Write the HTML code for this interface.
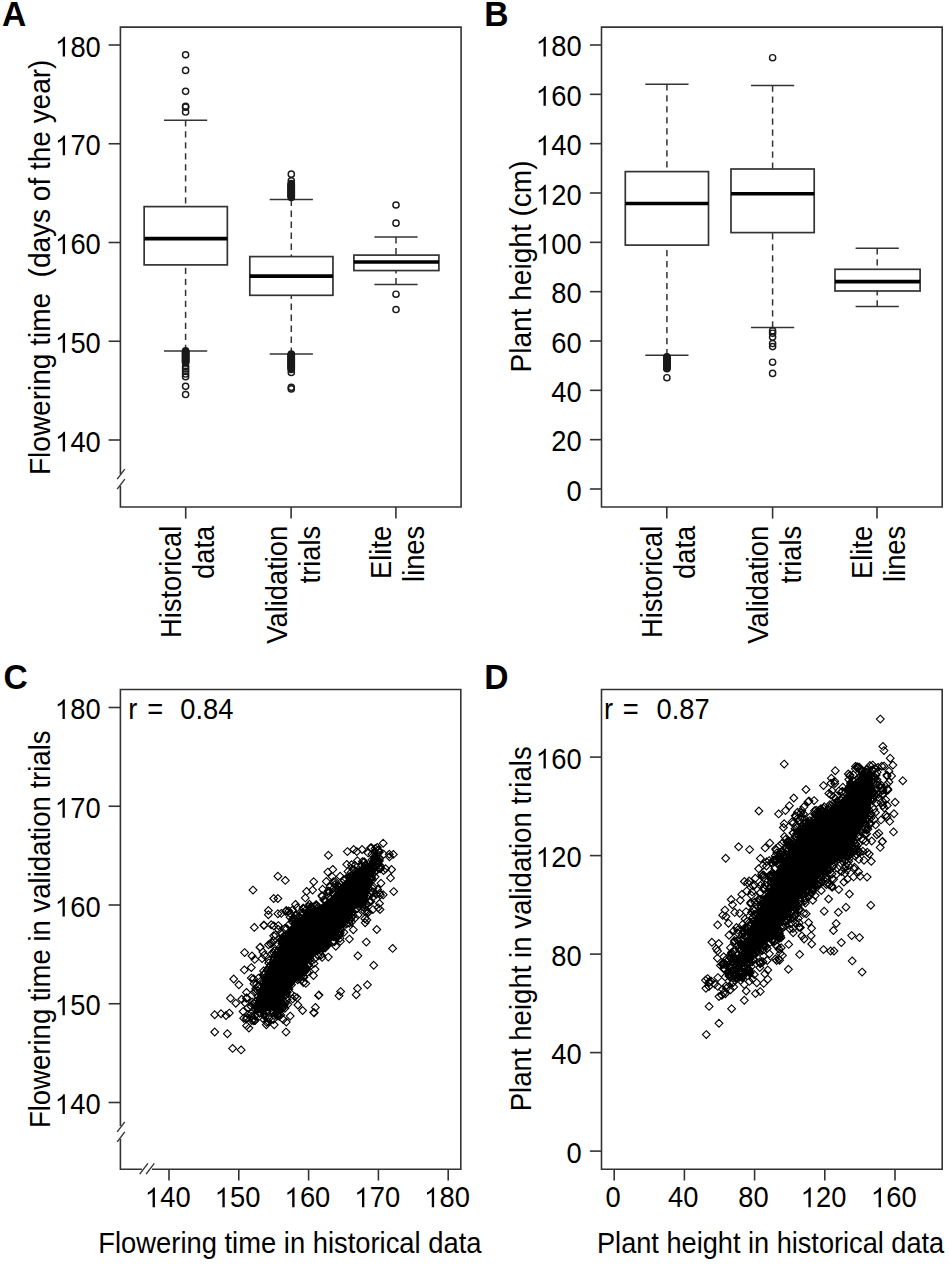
<!DOCTYPE html>
<html><head><meta charset="utf-8"><title>Figure</title>
<style>html,body{margin:0;padding:0;background:#fff;overflow:hidden;width:950px;height:1280px;}svg{display:block;}text{font-family:"Liberation Sans",sans-serif;}</style>
</head><body>
<svg width="950" height="1280" viewBox="0 0 950 1280" font-family="Liberation Sans, sans-serif" fill="#000">
<rect width="950" height="1280" fill="#fff"/>
<path d="M120.40 474.30V27.10H461.10V507.00H120.40V486.00" fill="none" stroke="#333" stroke-width="1.6" stroke-linejoin="miter"/>
<line x1="117.20" y1="479.20" x2="124.80" y2="469.20" stroke="#333" stroke-width="1.4" />
<line x1="117.20" y1="489.20" x2="124.80" y2="479.20" stroke="#333" stroke-width="1.4" />
<line x1="108.60" y1="45.00" x2="120.40" y2="45.00" stroke="#333" stroke-width="1.6" />
<text transform="translate(55.25 56.50) scale(1 1.06)" font-size="27.3">&#8199;80</text>
<path transform="translate(55.25 56.50) scale(0.013330 -0.013330)" d="M560 0L735 0L735 1480L622 1480L585 1404L520 1323L420 1238L300 1162L200 1111L200 935L310 985L420 1051L500 1111L560 1162Z"/>
<line x1="108.60" y1="143.75" x2="120.40" y2="143.75" stroke="#333" stroke-width="1.6" />
<text transform="translate(55.25 155.25) scale(1 1.06)" font-size="27.3">&#8199;70</text>
<path transform="translate(55.25 155.25) scale(0.013330 -0.013330)" d="M560 0L735 0L735 1480L622 1480L585 1404L520 1323L420 1238L300 1162L200 1111L200 935L310 985L420 1051L500 1111L560 1162Z"/>
<line x1="108.60" y1="242.50" x2="120.40" y2="242.50" stroke="#333" stroke-width="1.6" />
<text transform="translate(55.25 254.00) scale(1 1.06)" font-size="27.3">&#8199;60</text>
<path transform="translate(55.25 254.00) scale(0.013330 -0.013330)" d="M560 0L735 0L735 1480L622 1480L585 1404L520 1323L420 1238L300 1162L200 1111L200 935L310 985L420 1051L500 1111L560 1162Z"/>
<line x1="108.60" y1="341.25" x2="120.40" y2="341.25" stroke="#333" stroke-width="1.6" />
<text transform="translate(55.25 352.75) scale(1 1.06)" font-size="27.3">&#8199;50</text>
<path transform="translate(55.25 352.75) scale(0.013330 -0.013330)" d="M560 0L735 0L735 1480L622 1480L585 1404L520 1323L420 1238L300 1162L200 1111L200 935L310 985L420 1051L500 1111L560 1162Z"/>
<line x1="108.60" y1="440.00" x2="120.40" y2="440.00" stroke="#333" stroke-width="1.6" />
<text transform="translate(55.25 451.50) scale(1 1.06)" font-size="27.3">&#8199;40</text>
<path transform="translate(55.25 451.50) scale(0.013330 -0.013330)" d="M560 0L735 0L735 1480L622 1480L585 1404L520 1323L420 1238L300 1162L200 1111L200 935L310 985L420 1051L500 1111L560 1162Z"/>
<line x1="185.70" y1="507.00" x2="185.70" y2="518.60" stroke="#333" stroke-width="1.6" />
<line x1="291.10" y1="507.00" x2="291.10" y2="518.60" stroke="#333" stroke-width="1.6" />
<line x1="395.90" y1="507.00" x2="395.90" y2="518.60" stroke="#333" stroke-width="1.6" />
<text transform="translate(181.10 525.80) rotate(-90) scale(1 1.06)" text-anchor="end" font-size="27.3" font-weight="normal">Historical</text>
<text transform="translate(214.10 525.80) rotate(-90) scale(1 1.06)" text-anchor="end" font-size="27.3" font-weight="normal">data</text>
<text transform="translate(286.50 525.80) rotate(-90) scale(1 1.06)" text-anchor="end" font-size="27.3" font-weight="normal">Validation</text>
<text transform="translate(319.50 525.80) rotate(-90) scale(1 1.06)" text-anchor="end" font-size="27.3" font-weight="normal">trials</text>
<text transform="translate(391.30 525.80) rotate(-90) scale(1 1.06)" text-anchor="end" font-size="27.3" font-weight="normal">Elite</text>
<text transform="translate(424.30 525.80) rotate(-90) scale(1 1.06)" text-anchor="end" font-size="27.3" font-weight="normal">lines</text>
<text transform="translate(49.60 267.30) rotate(-90) scale(1 1.06)" text-anchor="middle" font-size="27.3" font-weight="normal" textLength="415.4" lengthAdjust="spacingAndGlyphs">Flowering time&#160; (days of the year)</text>
<line x1="185.60" y1="120.30" x2="185.60" y2="206.60" stroke="#333" stroke-width="1.5" stroke-dasharray="6.3 4.7"/>
<line x1="185.60" y1="351.10" x2="185.60" y2="264.90" stroke="#333" stroke-width="1.5" stroke-dasharray="6.3 4.7"/>
<line x1="164.00" y1="120.30" x2="207.20" y2="120.30" stroke="#333" stroke-width="1.5" />
<line x1="164.00" y1="351.10" x2="207.20" y2="351.10" stroke="#333" stroke-width="1.5" />
<rect x="144.15" y="206.60" width="83.20" height="58.30" fill="#fff" stroke="#333" stroke-width="1.7"/>
<line x1="144.15" y1="238.60" x2="227.35" y2="238.60" stroke="#000" stroke-width="3.6" />
<circle cx="185.60" cy="54.80" r="3.1" fill="none" stroke="#1a1a1a" stroke-width="1.45"/>
<circle cx="185.60" cy="70.40" r="3.1" fill="none" stroke="#1a1a1a" stroke-width="1.45"/>
<circle cx="185.60" cy="91.30" r="3.1" fill="none" stroke="#1a1a1a" stroke-width="1.45"/>
<circle cx="185.60" cy="106.30" r="3.1" fill="none" stroke="#1a1a1a" stroke-width="1.45"/>
<circle cx="185.60" cy="107.20" r="3.1" fill="none" stroke="#1a1a1a" stroke-width="1.45"/>
<circle cx="185.60" cy="112.00" r="3.1" fill="none" stroke="#1a1a1a" stroke-width="1.45"/>
<circle cx="185.60" cy="350.80" r="3.1" fill="none" stroke="#1a1a1a" stroke-width="1.45"/>
<circle cx="185.60" cy="351.50" r="3.1" fill="none" stroke="#1a1a1a" stroke-width="1.45"/>
<circle cx="185.60" cy="352.20" r="3.1" fill="none" stroke="#1a1a1a" stroke-width="1.45"/>
<circle cx="185.60" cy="352.90" r="3.1" fill="none" stroke="#1a1a1a" stroke-width="1.45"/>
<circle cx="185.60" cy="353.60" r="3.1" fill="none" stroke="#1a1a1a" stroke-width="1.45"/>
<circle cx="185.60" cy="354.30" r="3.1" fill="none" stroke="#1a1a1a" stroke-width="1.45"/>
<circle cx="185.60" cy="355.00" r="3.1" fill="none" stroke="#1a1a1a" stroke-width="1.45"/>
<circle cx="185.60" cy="355.70" r="3.1" fill="none" stroke="#1a1a1a" stroke-width="1.45"/>
<circle cx="185.60" cy="356.40" r="3.1" fill="none" stroke="#1a1a1a" stroke-width="1.45"/>
<circle cx="185.60" cy="357.10" r="3.1" fill="none" stroke="#1a1a1a" stroke-width="1.45"/>
<circle cx="185.60" cy="357.80" r="3.1" fill="none" stroke="#1a1a1a" stroke-width="1.45"/>
<circle cx="185.60" cy="358.50" r="3.1" fill="none" stroke="#1a1a1a" stroke-width="1.45"/>
<circle cx="185.60" cy="359.20" r="3.1" fill="none" stroke="#1a1a1a" stroke-width="1.45"/>
<circle cx="185.60" cy="359.90" r="3.1" fill="none" stroke="#1a1a1a" stroke-width="1.45"/>
<circle cx="185.60" cy="360.60" r="3.1" fill="none" stroke="#1a1a1a" stroke-width="1.45"/>
<circle cx="185.60" cy="361.30" r="3.1" fill="none" stroke="#1a1a1a" stroke-width="1.45"/>
<circle cx="185.60" cy="362.00" r="3.1" fill="none" stroke="#1a1a1a" stroke-width="1.45"/>
<circle cx="185.60" cy="362.70" r="3.1" fill="none" stroke="#1a1a1a" stroke-width="1.45"/>
<circle cx="185.60" cy="366.60" r="3.1" fill="none" stroke="#1a1a1a" stroke-width="1.45"/>
<circle cx="185.60" cy="368.90" r="3.1" fill="none" stroke="#1a1a1a" stroke-width="1.45"/>
<circle cx="185.60" cy="371.40" r="3.1" fill="none" stroke="#1a1a1a" stroke-width="1.45"/>
<circle cx="185.60" cy="374.00" r="3.1" fill="none" stroke="#1a1a1a" stroke-width="1.45"/>
<circle cx="185.60" cy="376.70" r="3.1" fill="none" stroke="#1a1a1a" stroke-width="1.45"/>
<circle cx="185.60" cy="386.30" r="3.1" fill="none" stroke="#1a1a1a" stroke-width="1.45"/>
<circle cx="185.60" cy="394.50" r="3.1" fill="none" stroke="#1a1a1a" stroke-width="1.45"/>
<line x1="291.30" y1="199.60" x2="291.30" y2="256.60" stroke="#333" stroke-width="1.5" stroke-dasharray="6.3 4.7"/>
<line x1="291.30" y1="353.90" x2="291.30" y2="295.30" stroke="#333" stroke-width="1.5" stroke-dasharray="6.3 4.7"/>
<line x1="269.70" y1="199.60" x2="312.90" y2="199.60" stroke="#333" stroke-width="1.5" />
<line x1="269.70" y1="353.90" x2="312.90" y2="353.90" stroke="#333" stroke-width="1.5" />
<rect x="249.80" y="256.60" width="83.15" height="38.70" fill="#fff" stroke="#333" stroke-width="1.7"/>
<line x1="249.80" y1="276.10" x2="332.95" y2="276.10" stroke="#000" stroke-width="3.6" />
<circle cx="291.30" cy="174.20" r="3.1" fill="none" stroke="#1a1a1a" stroke-width="1.45"/>
<circle cx="291.30" cy="180.80" r="3.1" fill="none" stroke="#1a1a1a" stroke-width="1.45"/>
<circle cx="291.30" cy="183.50" r="3.1" fill="none" stroke="#1a1a1a" stroke-width="1.45"/>
<circle cx="291.30" cy="184.20" r="3.1" fill="none" stroke="#1a1a1a" stroke-width="1.45"/>
<circle cx="291.30" cy="184.90" r="3.1" fill="none" stroke="#1a1a1a" stroke-width="1.45"/>
<circle cx="291.30" cy="185.60" r="3.1" fill="none" stroke="#1a1a1a" stroke-width="1.45"/>
<circle cx="291.30" cy="186.30" r="3.1" fill="none" stroke="#1a1a1a" stroke-width="1.45"/>
<circle cx="291.30" cy="187.00" r="3.1" fill="none" stroke="#1a1a1a" stroke-width="1.45"/>
<circle cx="291.30" cy="187.70" r="3.1" fill="none" stroke="#1a1a1a" stroke-width="1.45"/>
<circle cx="291.30" cy="188.40" r="3.1" fill="none" stroke="#1a1a1a" stroke-width="1.45"/>
<circle cx="291.30" cy="189.10" r="3.1" fill="none" stroke="#1a1a1a" stroke-width="1.45"/>
<circle cx="291.30" cy="189.80" r="3.1" fill="none" stroke="#1a1a1a" stroke-width="1.45"/>
<circle cx="291.30" cy="190.50" r="3.1" fill="none" stroke="#1a1a1a" stroke-width="1.45"/>
<circle cx="291.30" cy="191.20" r="3.1" fill="none" stroke="#1a1a1a" stroke-width="1.45"/>
<circle cx="291.30" cy="191.90" r="3.1" fill="none" stroke="#1a1a1a" stroke-width="1.45"/>
<circle cx="291.30" cy="192.60" r="3.1" fill="none" stroke="#1a1a1a" stroke-width="1.45"/>
<circle cx="291.30" cy="193.30" r="3.1" fill="none" stroke="#1a1a1a" stroke-width="1.45"/>
<circle cx="291.30" cy="194.00" r="3.1" fill="none" stroke="#1a1a1a" stroke-width="1.45"/>
<circle cx="291.30" cy="194.70" r="3.1" fill="none" stroke="#1a1a1a" stroke-width="1.45"/>
<circle cx="291.30" cy="195.40" r="3.1" fill="none" stroke="#1a1a1a" stroke-width="1.45"/>
<circle cx="291.30" cy="196.10" r="3.1" fill="none" stroke="#1a1a1a" stroke-width="1.45"/>
<circle cx="291.30" cy="196.80" r="3.1" fill="none" stroke="#1a1a1a" stroke-width="1.45"/>
<circle cx="291.30" cy="197.50" r="3.1" fill="none" stroke="#1a1a1a" stroke-width="1.45"/>
<circle cx="291.30" cy="354.00" r="3.1" fill="none" stroke="#1a1a1a" stroke-width="1.45"/>
<circle cx="291.30" cy="354.70" r="3.1" fill="none" stroke="#1a1a1a" stroke-width="1.45"/>
<circle cx="291.30" cy="355.40" r="3.1" fill="none" stroke="#1a1a1a" stroke-width="1.45"/>
<circle cx="291.30" cy="356.10" r="3.1" fill="none" stroke="#1a1a1a" stroke-width="1.45"/>
<circle cx="291.30" cy="356.80" r="3.1" fill="none" stroke="#1a1a1a" stroke-width="1.45"/>
<circle cx="291.30" cy="357.50" r="3.1" fill="none" stroke="#1a1a1a" stroke-width="1.45"/>
<circle cx="291.30" cy="358.20" r="3.1" fill="none" stroke="#1a1a1a" stroke-width="1.45"/>
<circle cx="291.30" cy="358.90" r="3.1" fill="none" stroke="#1a1a1a" stroke-width="1.45"/>
<circle cx="291.30" cy="359.60" r="3.1" fill="none" stroke="#1a1a1a" stroke-width="1.45"/>
<circle cx="291.30" cy="360.30" r="3.1" fill="none" stroke="#1a1a1a" stroke-width="1.45"/>
<circle cx="291.30" cy="361.00" r="3.1" fill="none" stroke="#1a1a1a" stroke-width="1.45"/>
<circle cx="291.30" cy="361.70" r="3.1" fill="none" stroke="#1a1a1a" stroke-width="1.45"/>
<circle cx="291.30" cy="362.40" r="3.1" fill="none" stroke="#1a1a1a" stroke-width="1.45"/>
<circle cx="291.30" cy="363.10" r="3.1" fill="none" stroke="#1a1a1a" stroke-width="1.45"/>
<circle cx="291.30" cy="363.80" r="3.1" fill="none" stroke="#1a1a1a" stroke-width="1.45"/>
<circle cx="291.30" cy="364.50" r="3.1" fill="none" stroke="#1a1a1a" stroke-width="1.45"/>
<circle cx="291.30" cy="365.20" r="3.1" fill="none" stroke="#1a1a1a" stroke-width="1.45"/>
<circle cx="291.30" cy="365.90" r="3.1" fill="none" stroke="#1a1a1a" stroke-width="1.45"/>
<circle cx="291.30" cy="366.60" r="3.1" fill="none" stroke="#1a1a1a" stroke-width="1.45"/>
<circle cx="291.30" cy="367.30" r="3.1" fill="none" stroke="#1a1a1a" stroke-width="1.45"/>
<circle cx="291.30" cy="368.00" r="3.1" fill="none" stroke="#1a1a1a" stroke-width="1.45"/>
<circle cx="291.30" cy="368.70" r="3.1" fill="none" stroke="#1a1a1a" stroke-width="1.45"/>
<circle cx="291.30" cy="369.40" r="3.1" fill="none" stroke="#1a1a1a" stroke-width="1.45"/>
<circle cx="291.30" cy="372.40" r="3.1" fill="none" stroke="#1a1a1a" stroke-width="1.45"/>
<circle cx="291.30" cy="387.30" r="3.1" fill="none" stroke="#1a1a1a" stroke-width="1.45"/>
<circle cx="291.30" cy="388.90" r="3.1" fill="none" stroke="#1a1a1a" stroke-width="1.45"/>
<line x1="396.00" y1="237.10" x2="396.00" y2="255.10" stroke="#333" stroke-width="1.5" stroke-dasharray="6.3 4.7"/>
<line x1="396.00" y1="284.40" x2="396.00" y2="270.55" stroke="#333" stroke-width="1.5" stroke-dasharray="6.3 4.7"/>
<line x1="374.40" y1="237.10" x2="417.60" y2="237.10" stroke="#333" stroke-width="1.5" />
<line x1="374.40" y1="284.40" x2="417.60" y2="284.40" stroke="#333" stroke-width="1.5" />
<rect x="353.90" y="255.10" width="85.00" height="15.45" fill="#fff" stroke="#333" stroke-width="1.7"/>
<line x1="353.90" y1="262.05" x2="438.90" y2="262.05" stroke="#000" stroke-width="3.6" />
<circle cx="396.00" cy="205.00" r="3.1" fill="none" stroke="#1a1a1a" stroke-width="1.45"/>
<circle cx="396.00" cy="223.20" r="3.1" fill="none" stroke="#1a1a1a" stroke-width="1.45"/>
<circle cx="396.00" cy="294.20" r="3.1" fill="none" stroke="#1a1a1a" stroke-width="1.45"/>
<circle cx="396.00" cy="309.50" r="3.1" fill="none" stroke="#1a1a1a" stroke-width="1.45"/>
<path d="M601.50 27.10H942.20V507.00H601.50Z" fill="none" stroke="#333" stroke-width="1.6" stroke-linejoin="miter"/>
<line x1="589.90" y1="489.00" x2="601.50" y2="489.00" stroke="#333" stroke-width="1.6" />
<text transform="translate(566.42 500.50) scale(1 1.06)" font-size="27.3">0</text>
<line x1="589.90" y1="439.67" x2="601.50" y2="439.67" stroke="#333" stroke-width="1.6" />
<text transform="translate(551.23 451.17) scale(1 1.06)" font-size="27.3">20</text>
<line x1="589.90" y1="390.33" x2="601.50" y2="390.33" stroke="#333" stroke-width="1.6" />
<text transform="translate(551.23 401.83) scale(1 1.06)" font-size="27.3">40</text>
<line x1="589.90" y1="341.00" x2="601.50" y2="341.00" stroke="#333" stroke-width="1.6" />
<text transform="translate(551.23 352.50) scale(1 1.06)" font-size="27.3">60</text>
<line x1="589.90" y1="291.66" x2="601.50" y2="291.66" stroke="#333" stroke-width="1.6" />
<text transform="translate(551.23 303.16) scale(1 1.06)" font-size="27.3">80</text>
<line x1="589.90" y1="242.33" x2="601.50" y2="242.33" stroke="#333" stroke-width="1.6" />
<text transform="translate(536.05 253.83) scale(1 1.06)" font-size="27.3">&#8199;00</text>
<path transform="translate(536.05 253.83) scale(0.013330 -0.013330)" d="M560 0L735 0L735 1480L622 1480L585 1404L520 1323L420 1238L300 1162L200 1111L200 935L310 985L420 1051L500 1111L560 1162Z"/>
<line x1="589.90" y1="193.00" x2="601.50" y2="193.00" stroke="#333" stroke-width="1.6" />
<text transform="translate(536.05 204.50) scale(1 1.06)" font-size="27.3">&#8199;20</text>
<path transform="translate(536.05 204.50) scale(0.013330 -0.013330)" d="M560 0L735 0L735 1480L622 1480L585 1404L520 1323L420 1238L300 1162L200 1111L200 935L310 985L420 1051L500 1111L560 1162Z"/>
<line x1="589.90" y1="143.66" x2="601.50" y2="143.66" stroke="#333" stroke-width="1.6" />
<text transform="translate(536.05 155.16) scale(1 1.06)" font-size="27.3">&#8199;40</text>
<path transform="translate(536.05 155.16) scale(0.013330 -0.013330)" d="M560 0L735 0L735 1480L622 1480L585 1404L520 1323L420 1238L300 1162L200 1111L200 935L310 985L420 1051L500 1111L560 1162Z"/>
<line x1="589.90" y1="94.33" x2="601.50" y2="94.33" stroke="#333" stroke-width="1.6" />
<text transform="translate(536.05 105.83) scale(1 1.06)" font-size="27.3">&#8199;60</text>
<path transform="translate(536.05 105.83) scale(0.013330 -0.013330)" d="M560 0L735 0L735 1480L622 1480L585 1404L520 1323L420 1238L300 1162L200 1111L200 935L310 985L420 1051L500 1111L560 1162Z"/>
<line x1="589.90" y1="44.99" x2="601.50" y2="44.99" stroke="#333" stroke-width="1.6" />
<text transform="translate(536.05 56.49) scale(1 1.06)" font-size="27.3">&#8199;80</text>
<path transform="translate(536.05 56.49) scale(0.013330 -0.013330)" d="M560 0L735 0L735 1480L622 1480L585 1404L520 1323L420 1238L300 1162L200 1111L200 935L310 985L420 1051L500 1111L560 1162Z"/>
<line x1="666.80" y1="507.00" x2="666.80" y2="518.60" stroke="#333" stroke-width="1.6" />
<line x1="772.60" y1="507.00" x2="772.60" y2="518.60" stroke="#333" stroke-width="1.6" />
<line x1="877.00" y1="507.00" x2="877.00" y2="518.60" stroke="#333" stroke-width="1.6" />
<text transform="translate(662.20 525.80) rotate(-90) scale(1 1.06)" text-anchor="end" font-size="27.3" font-weight="normal">Historical</text>
<text transform="translate(695.20 525.80) rotate(-90) scale(1 1.06)" text-anchor="end" font-size="27.3" font-weight="normal">data</text>
<text transform="translate(768.00 525.80) rotate(-90) scale(1 1.06)" text-anchor="end" font-size="27.3" font-weight="normal">Validation</text>
<text transform="translate(801.00 525.80) rotate(-90) scale(1 1.06)" text-anchor="end" font-size="27.3" font-weight="normal">trials</text>
<text transform="translate(872.40 525.80) rotate(-90) scale(1 1.06)" text-anchor="end" font-size="27.3" font-weight="normal">Elite</text>
<text transform="translate(905.40 525.80) rotate(-90) scale(1 1.06)" text-anchor="end" font-size="27.3" font-weight="normal">lines</text>
<text transform="translate(531.00 266.45) rotate(-90) scale(1 1.06)" text-anchor="middle" font-size="27.3" font-weight="normal" textLength="212" lengthAdjust="spacingAndGlyphs">Plant height (cm)</text>
<line x1="666.90" y1="84.20" x2="666.90" y2="171.60" stroke="#333" stroke-width="1.5" stroke-dasharray="6.3 4.7"/>
<line x1="666.90" y1="355.30" x2="666.90" y2="245.10" stroke="#333" stroke-width="1.5" stroke-dasharray="6.3 4.7"/>
<line x1="645.30" y1="84.20" x2="688.50" y2="84.20" stroke="#333" stroke-width="1.5" />
<line x1="645.30" y1="355.30" x2="688.50" y2="355.30" stroke="#333" stroke-width="1.5" />
<rect x="625.30" y="171.60" width="83.20" height="73.50" fill="#fff" stroke="#333" stroke-width="1.7"/>
<line x1="625.30" y1="203.50" x2="708.50" y2="203.50" stroke="#000" stroke-width="3.6" />
<circle cx="666.90" cy="356.70" r="3.1" fill="none" stroke="#1a1a1a" stroke-width="1.45"/>
<circle cx="666.90" cy="357.30" r="3.1" fill="none" stroke="#1a1a1a" stroke-width="1.45"/>
<circle cx="666.90" cy="357.90" r="3.1" fill="none" stroke="#1a1a1a" stroke-width="1.45"/>
<circle cx="666.90" cy="358.50" r="3.1" fill="none" stroke="#1a1a1a" stroke-width="1.45"/>
<circle cx="666.90" cy="359.10" r="3.1" fill="none" stroke="#1a1a1a" stroke-width="1.45"/>
<circle cx="666.90" cy="359.70" r="3.1" fill="none" stroke="#1a1a1a" stroke-width="1.45"/>
<circle cx="666.90" cy="360.30" r="3.1" fill="none" stroke="#1a1a1a" stroke-width="1.45"/>
<circle cx="666.90" cy="360.90" r="3.1" fill="none" stroke="#1a1a1a" stroke-width="1.45"/>
<circle cx="666.90" cy="361.50" r="3.1" fill="none" stroke="#1a1a1a" stroke-width="1.45"/>
<circle cx="666.90" cy="362.10" r="3.1" fill="none" stroke="#1a1a1a" stroke-width="1.45"/>
<circle cx="666.90" cy="362.70" r="3.1" fill="none" stroke="#1a1a1a" stroke-width="1.45"/>
<circle cx="666.90" cy="363.30" r="3.1" fill="none" stroke="#1a1a1a" stroke-width="1.45"/>
<circle cx="666.90" cy="363.90" r="3.1" fill="none" stroke="#1a1a1a" stroke-width="1.45"/>
<circle cx="666.90" cy="364.50" r="3.1" fill="none" stroke="#1a1a1a" stroke-width="1.45"/>
<circle cx="666.90" cy="365.10" r="3.1" fill="none" stroke="#1a1a1a" stroke-width="1.45"/>
<circle cx="666.90" cy="365.70" r="3.1" fill="none" stroke="#1a1a1a" stroke-width="1.45"/>
<circle cx="666.90" cy="366.30" r="3.1" fill="none" stroke="#1a1a1a" stroke-width="1.45"/>
<circle cx="666.90" cy="366.90" r="3.1" fill="none" stroke="#1a1a1a" stroke-width="1.45"/>
<circle cx="666.90" cy="367.50" r="3.1" fill="none" stroke="#1a1a1a" stroke-width="1.45"/>
<circle cx="666.90" cy="368.10" r="3.1" fill="none" stroke="#1a1a1a" stroke-width="1.45"/>
<circle cx="666.90" cy="368.70" r="3.1" fill="none" stroke="#1a1a1a" stroke-width="1.45"/>
<circle cx="666.90" cy="377.70" r="3.1" fill="none" stroke="#1a1a1a" stroke-width="1.45"/>
<line x1="772.60" y1="85.40" x2="772.60" y2="169.00" stroke="#333" stroke-width="1.5" stroke-dasharray="6.3 4.7"/>
<line x1="772.60" y1="327.50" x2="772.60" y2="232.60" stroke="#333" stroke-width="1.5" stroke-dasharray="6.3 4.7"/>
<line x1="751.00" y1="85.40" x2="794.20" y2="85.40" stroke="#333" stroke-width="1.5" />
<line x1="751.00" y1="327.50" x2="794.20" y2="327.50" stroke="#333" stroke-width="1.5" />
<rect x="731.00" y="169.00" width="83.20" height="63.60" fill="#fff" stroke="#333" stroke-width="1.7"/>
<line x1="731.00" y1="193.80" x2="814.20" y2="193.80" stroke="#000" stroke-width="3.6" />
<circle cx="772.60" cy="57.70" r="3.1" fill="none" stroke="#1a1a1a" stroke-width="1.45"/>
<circle cx="772.60" cy="330.80" r="3.1" fill="none" stroke="#1a1a1a" stroke-width="1.45"/>
<circle cx="772.60" cy="333.20" r="3.1" fill="none" stroke="#1a1a1a" stroke-width="1.45"/>
<circle cx="772.60" cy="337.00" r="3.1" fill="none" stroke="#1a1a1a" stroke-width="1.45"/>
<circle cx="772.60" cy="343.50" r="3.1" fill="none" stroke="#1a1a1a" stroke-width="1.45"/>
<circle cx="772.60" cy="346.60" r="3.1" fill="none" stroke="#1a1a1a" stroke-width="1.45"/>
<circle cx="772.60" cy="362.20" r="3.1" fill="none" stroke="#1a1a1a" stroke-width="1.45"/>
<circle cx="772.60" cy="373.40" r="3.1" fill="none" stroke="#1a1a1a" stroke-width="1.45"/>
<line x1="877.20" y1="248.20" x2="877.20" y2="269.30" stroke="#333" stroke-width="1.5" stroke-dasharray="6.3 4.7"/>
<line x1="877.20" y1="306.60" x2="877.20" y2="291.00" stroke="#333" stroke-width="1.5" stroke-dasharray="6.3 4.7"/>
<line x1="855.60" y1="248.20" x2="898.80" y2="248.20" stroke="#333" stroke-width="1.5" />
<line x1="855.60" y1="306.60" x2="898.80" y2="306.60" stroke="#333" stroke-width="1.5" />
<rect x="835.00" y="269.30" width="85.10" height="21.70" fill="#fff" stroke="#333" stroke-width="1.7"/>
<line x1="835.00" y1="281.60" x2="920.10" y2="281.60" stroke="#000" stroke-width="3.6" />
<path d="M120.40 1126.00V689.50H460.80V1169.30H152.00M141.90 1169.30H120.40V1139.00" fill="none" stroke="#333" stroke-width="1.6" stroke-linejoin="miter"/>
<line x1="117.20" y1="1131.80" x2="124.80" y2="1121.80" stroke="#333" stroke-width="1.4" />
<line x1="117.20" y1="1141.80" x2="124.80" y2="1131.80" stroke="#333" stroke-width="1.4" />
<line x1="139.70" y1="1174.20" x2="147.90" y2="1163.40" stroke="#333" stroke-width="1.4" />
<line x1="146.10" y1="1174.20" x2="154.30" y2="1163.40" stroke="#333" stroke-width="1.4" />
<line x1="108.60" y1="707.50" x2="120.40" y2="707.50" stroke="#333" stroke-width="1.6" />
<text transform="translate(55.05 719.00) scale(1 1.06)" font-size="27.3">&#8199;80</text>
<path transform="translate(55.05 719.00) scale(0.013330 -0.013330)" d="M560 0L735 0L735 1480L622 1480L585 1404L520 1323L420 1238L300 1162L200 1111L200 935L310 985L420 1051L500 1111L560 1162Z"/>
<line x1="448.20" y1="1169.30" x2="448.20" y2="1180.50" stroke="#333" stroke-width="1.6" />
<text transform="translate(424.33 1207.20) scale(1 1.06)" font-size="27.3">&#8199;80</text>
<path transform="translate(424.33 1207.20) scale(0.013330 -0.013330)" d="M560 0L735 0L735 1480L622 1480L585 1404L520 1323L420 1238L300 1162L200 1111L200 935L310 985L420 1051L500 1111L560 1162Z"/>
<line x1="108.60" y1="806.25" x2="120.40" y2="806.25" stroke="#333" stroke-width="1.6" />
<text transform="translate(55.05 817.75) scale(1 1.06)" font-size="27.3">&#8199;70</text>
<path transform="translate(55.05 817.75) scale(0.013330 -0.013330)" d="M560 0L735 0L735 1480L622 1480L585 1404L520 1323L420 1238L300 1162L200 1111L200 935L310 985L420 1051L500 1111L560 1162Z"/>
<line x1="378.40" y1="1169.30" x2="378.40" y2="1180.50" stroke="#333" stroke-width="1.6" />
<text transform="translate(354.53 1207.20) scale(1 1.06)" font-size="27.3">&#8199;70</text>
<path transform="translate(354.53 1207.20) scale(0.013330 -0.013330)" d="M560 0L735 0L735 1480L622 1480L585 1404L520 1323L420 1238L300 1162L200 1111L200 935L310 985L420 1051L500 1111L560 1162Z"/>
<line x1="108.60" y1="905.00" x2="120.40" y2="905.00" stroke="#333" stroke-width="1.6" />
<text transform="translate(55.05 916.50) scale(1 1.06)" font-size="27.3">&#8199;60</text>
<path transform="translate(55.05 916.50) scale(0.013330 -0.013330)" d="M560 0L735 0L735 1480L622 1480L585 1404L520 1323L420 1238L300 1162L200 1111L200 935L310 985L420 1051L500 1111L560 1162Z"/>
<line x1="308.60" y1="1169.30" x2="308.60" y2="1180.50" stroke="#333" stroke-width="1.6" />
<text transform="translate(284.73 1207.20) scale(1 1.06)" font-size="27.3">&#8199;60</text>
<path transform="translate(284.73 1207.20) scale(0.013330 -0.013330)" d="M560 0L735 0L735 1480L622 1480L585 1404L520 1323L420 1238L300 1162L200 1111L200 935L310 985L420 1051L500 1111L560 1162Z"/>
<line x1="108.60" y1="1003.75" x2="120.40" y2="1003.75" stroke="#333" stroke-width="1.6" />
<text transform="translate(55.05 1015.25) scale(1 1.06)" font-size="27.3">&#8199;50</text>
<path transform="translate(55.05 1015.25) scale(0.013330 -0.013330)" d="M560 0L735 0L735 1480L622 1480L585 1404L520 1323L420 1238L300 1162L200 1111L200 935L310 985L420 1051L500 1111L560 1162Z"/>
<line x1="238.80" y1="1169.30" x2="238.80" y2="1180.50" stroke="#333" stroke-width="1.6" />
<text transform="translate(214.93 1207.20) scale(1 1.06)" font-size="27.3">&#8199;50</text>
<path transform="translate(214.93 1207.20) scale(0.013330 -0.013330)" d="M560 0L735 0L735 1480L622 1480L585 1404L520 1323L420 1238L300 1162L200 1111L200 935L310 985L420 1051L500 1111L560 1162Z"/>
<line x1="108.60" y1="1102.50" x2="120.40" y2="1102.50" stroke="#333" stroke-width="1.6" />
<text transform="translate(55.05 1114.00) scale(1 1.06)" font-size="27.3">&#8199;40</text>
<path transform="translate(55.05 1114.00) scale(0.013330 -0.013330)" d="M560 0L735 0L735 1480L622 1480L585 1404L520 1323L420 1238L300 1162L200 1111L200 935L310 985L420 1051L500 1111L560 1162Z"/>
<line x1="169.00" y1="1169.30" x2="169.00" y2="1180.50" stroke="#333" stroke-width="1.6" />
<text transform="translate(145.13 1207.20) scale(1 1.06)" font-size="27.3">&#8199;40</text>
<path transform="translate(145.13 1207.20) scale(0.013330 -0.013330)" d="M560 0L735 0L735 1480L622 1480L585 1404L520 1323L420 1238L300 1162L200 1111L200 935L310 985L420 1051L500 1111L560 1162Z"/>
<text transform="translate(289.90 1253.00) scale(1 1.06)" text-anchor="middle" font-size="27.3" font-weight="normal" textLength="383.2" lengthAdjust="spacingAndGlyphs">Flowering time in historical data</text>
<text transform="translate(49.60 929.30) rotate(-90) scale(1 1.06)" text-anchor="middle" font-size="27.3" font-weight="normal" textLength="397.6" lengthAdjust="spacingAndGlyphs">Flowering time in validation trials</text>
<text transform="translate(128.20 719.00) scale(1 1.06)" text-anchor="start" font-size="27.3" font-weight="normal">r</text>
<text transform="translate(147.20 719.00) scale(1 1.06)" text-anchor="start" font-size="27.3" font-weight="normal">=</text>
<text transform="translate(180.20 719.00) scale(1 1.06)" text-anchor="start" font-size="27.3" font-weight="normal">0.84</text>
<path d="M601.50 689.50H942.20V1169.30H601.50Z" fill="none" stroke="#333" stroke-width="1.6" stroke-linejoin="miter"/>
<line x1="589.90" y1="1151.10" x2="601.50" y2="1151.10" stroke="#333" stroke-width="1.6" />
<text transform="translate(566.42 1162.60) scale(1 1.06)" font-size="27.3">0</text>
<line x1="614.20" y1="1169.30" x2="614.20" y2="1180.50" stroke="#333" stroke-width="1.6" />
<text transform="translate(605.51 1207.20) scale(1 1.06)" font-size="27.3">0</text>
<line x1="589.90" y1="1052.60" x2="601.50" y2="1052.60" stroke="#333" stroke-width="1.6" />
<text transform="translate(551.23 1064.10) scale(1 1.06)" font-size="27.3">40</text>
<line x1="684.40" y1="1169.30" x2="684.40" y2="1180.50" stroke="#333" stroke-width="1.6" />
<text transform="translate(668.12 1207.20) scale(1 1.06)" font-size="27.3">40</text>
<line x1="589.90" y1="954.10" x2="601.50" y2="954.10" stroke="#333" stroke-width="1.6" />
<text transform="translate(551.23 965.60) scale(1 1.06)" font-size="27.3">80</text>
<line x1="754.60" y1="1169.30" x2="754.60" y2="1180.50" stroke="#333" stroke-width="1.6" />
<text transform="translate(738.32 1207.20) scale(1 1.06)" font-size="27.3">80</text>
<line x1="589.90" y1="855.60" x2="601.50" y2="855.60" stroke="#333" stroke-width="1.6" />
<text transform="translate(536.05 867.10) scale(1 1.06)" font-size="27.3">&#8199;20</text>
<path transform="translate(536.05 867.10) scale(0.013330 -0.013330)" d="M560 0L735 0L735 1480L622 1480L585 1404L520 1323L420 1238L300 1162L200 1111L200 935L310 985L420 1051L500 1111L560 1162Z"/>
<line x1="824.80" y1="1169.30" x2="824.80" y2="1180.50" stroke="#333" stroke-width="1.6" />
<text transform="translate(800.93 1207.20) scale(1 1.06)" font-size="27.3">&#8199;20</text>
<path transform="translate(800.93 1207.20) scale(0.013330 -0.013330)" d="M560 0L735 0L735 1480L622 1480L585 1404L520 1323L420 1238L300 1162L200 1111L200 935L310 985L420 1051L500 1111L560 1162Z"/>
<line x1="589.90" y1="757.10" x2="601.50" y2="757.10" stroke="#333" stroke-width="1.6" />
<text transform="translate(536.05 768.60) scale(1 1.06)" font-size="27.3">&#8199;60</text>
<path transform="translate(536.05 768.60) scale(0.013330 -0.013330)" d="M560 0L735 0L735 1480L622 1480L585 1404L520 1323L420 1238L300 1162L200 1111L200 935L310 985L420 1051L500 1111L560 1162Z"/>
<line x1="895.00" y1="1169.30" x2="895.00" y2="1180.50" stroke="#333" stroke-width="1.6" />
<text transform="translate(871.13 1207.20) scale(1 1.06)" font-size="27.3">&#8199;60</text>
<path transform="translate(871.13 1207.20) scale(0.013330 -0.013330)" d="M560 0L735 0L735 1480L622 1480L585 1404L520 1323L420 1238L300 1162L200 1111L200 935L310 985L420 1051L500 1111L560 1162Z"/>
<text transform="translate(770.60 1253.00) scale(1 1.06)" text-anchor="middle" font-size="27.3" font-weight="normal" textLength="347.2" lengthAdjust="spacingAndGlyphs">Plant height in historical data</text>
<text transform="translate(531.00 928.80) rotate(-90) scale(1 1.06)" text-anchor="middle" font-size="27.3" font-weight="normal" textLength="365" lengthAdjust="spacingAndGlyphs">Plant height in validation trials</text>
<text transform="translate(604.00 719.00) scale(1 1.06)" text-anchor="start" font-size="27.3" font-weight="normal">r</text>
<text transform="translate(622.70 719.00) scale(1 1.06)" text-anchor="start" font-size="27.3" font-weight="normal">=</text>
<text transform="translate(656.50 719.00) scale(1 1.06)" text-anchor="start" font-size="27.3" font-weight="normal">0.87</text>
<text transform="translate(2.06 25.80) scale(1 1.06)" text-anchor="start" font-size="33.6" font-weight="bold">A</text>
<text transform="translate(484.15 25.90) scale(1 1.06)" text-anchor="start" font-size="33.6" font-weight="bold">B</text>
<text transform="translate(3.62 689.00) scale(1 1.06)" text-anchor="start" font-size="33.6" font-weight="bold">C</text>
<text transform="translate(484.15 688.50) scale(1 1.06)" text-anchor="start" font-size="33.6" font-weight="bold">D</text>
<path d="M377.4 849.4 L371.7 854.3 L369.2 861.8 L369.1 862.0 L369.0 862.2 L368.9 862.4 L368.8 862.6 L368.6 862.8 L368.4 862.9 L368.2 863.0 L368.0 863.2 L367.8 863.3 L357.3 867.8 L348.1 877.0 L340.3 884.9 L332.0 896.0 L331.9 896.1 L331.7 896.3 L331.6 896.5 L318.2 906.8 L318.0 907.0 L317.8 907.1 L317.6 907.2 L317.4 907.2 L317.2 907.3 L306.2 909.7 L302.0 915.0 L301.8 915.2 L288.5 928.5 L286.0 932.8 L277.8 949.1 L277.8 949.2 L268.2 967.0 L263.1 977.4 L259.1 989.3 L255.0 1002.7 L252.5 1013.4 L253.4 1014.5 L260.7 1013.1 L272.6 1009.9 L272.8 1009.9 L273.0 1009.8 L273.2 1009.8 L273.5 1009.8 L273.7 1009.9 L273.9 1009.9 L274.1 1010.0 L281.9 1013.1 L283.2 1012.0 L284.1 998.6 L284.1 998.4 L284.2 998.1 L284.2 997.9 L284.3 997.7 L284.4 997.5 L284.6 997.3 L290.9 988.6 L291.0 988.5 L294.7 983.8 L298.8 978.0 L301.6 970.4 L301.7 970.2 L301.9 969.9 L302.0 969.7 L302.2 969.5 L308.4 963.4 L316.7 954.1 L323.5 945.3 L323.7 945.2 L323.9 945.0 L324.0 944.9 L324.2 944.7 L331.6 940.2 L338.6 932.2 L338.7 932.1 L345.3 925.5 L349.1 913.3 L349.2 913.1 L349.3 912.9 L349.4 912.7 L349.5 912.5 L349.7 912.3 L349.8 912.2 L350.0 912.0 L350.2 911.9 L360.2 906.1 L360.4 906.0 L360.6 905.9 L360.9 905.8 L361.1 905.8 L361.3 905.8 L361.6 905.8 L361.8 905.8 L362.0 905.8 L366.1 906.8 L367.1 902.8 L368.6 893.9 L368.6 893.8 L370.4 885.8 L368.8 876.6 L368.8 876.3 L368.8 876.1 L368.8 875.8 L368.9 875.6 L368.9 875.3 L369.0 875.1 L369.1 874.9 L369.3 874.7 L374.7 867.1 L378.0 858.7 L378.4 850.4 L377.4 849.4Z" fill="#000"/>
<path d="M251.3 1002.5l3.9 3.9l-3.9 3.9l-3.9 -3.9zM354.2 869.3l3.9 3.9l-3.9 3.9l-3.9 -3.9zM378.4 846.1l3.9 3.9l-3.9 3.9l-3.9 -3.9zM316.3 946.8l3.9 3.9l-3.9 3.9l-3.9 -3.9zM367.4 909.2l3.9 3.9l-3.9 3.9l-3.9 -3.9zM293.4 914.6l3.9 3.9l-3.9 3.9l-3.9 -3.9zM370.8 875.0l3.9 3.9l-3.9 3.9l-3.9 -3.9zM246.9 1013.7l3.9 3.9l-3.9 3.9l-3.9 -3.9zM253.5 974.8l3.9 3.9l-3.9 3.9l-3.9 -3.9zM328.6 889.2l3.9 3.9l-3.9 3.9l-3.9 -3.9zM281.5 1004.8l3.9 3.9l-3.9 3.9l-3.9 -3.9zM229.3 1009.2l3.9 3.9l-3.9 3.9l-3.9 -3.9zM345.9 913.3l3.9 3.9l-3.9 3.9l-3.9 -3.9zM372.9 893.4l3.9 3.9l-3.9 3.9l-3.9 -3.9zM364.7 901.4l3.9 3.9l-3.9 3.9l-3.9 -3.9zM327.8 868.2l3.9 3.9l-3.9 3.9l-3.9 -3.9zM274.5 1011.8l3.9 3.9l-3.9 3.9l-3.9 -3.9zM248.0 1010.6l3.9 3.9l-3.9 3.9l-3.9 -3.9zM306.6 887.5l3.9 3.9l-3.9 3.9l-3.9 -3.9zM273.2 936.6l3.9 3.9l-3.9 3.9l-3.9 -3.9zM283.3 1002.4l3.9 3.9l-3.9 3.9l-3.9 -3.9zM323.1 944.7l3.9 3.9l-3.9 3.9l-3.9 -3.9zM332.2 872.8l3.9 3.9l-3.9 3.9l-3.9 -3.9zM279.2 1012.4l3.9 3.9l-3.9 3.9l-3.9 -3.9zM255.7 984.9l3.9 3.9l-3.9 3.9l-3.9 -3.9zM350.5 915.9l3.9 3.9l-3.9 3.9l-3.9 -3.9zM294.8 992.8l3.9 3.9l-3.9 3.9l-3.9 -3.9zM246.7 993.9l3.9 3.9l-3.9 3.9l-3.9 -3.9zM328.1 887.1l3.9 3.9l-3.9 3.9l-3.9 -3.9zM314.0 959.5l3.9 3.9l-3.9 3.9l-3.9 -3.9zM276.4 948.8l3.9 3.9l-3.9 3.9l-3.9 -3.9zM336.4 934.3l3.9 3.9l-3.9 3.9l-3.9 -3.9zM296.0 911.7l3.9 3.9l-3.9 3.9l-3.9 -3.9zM254.4 999.3l3.9 3.9l-3.9 3.9l-3.9 -3.9zM358.2 911.0l3.9 3.9l-3.9 3.9l-3.9 -3.9zM348.7 906.6l3.9 3.9l-3.9 3.9l-3.9 -3.9zM264.2 1010.8l3.9 3.9l-3.9 3.9l-3.9 -3.9zM275.0 951.3l3.9 3.9l-3.9 3.9l-3.9 -3.9zM268.5 940.8l3.9 3.9l-3.9 3.9l-3.9 -3.9zM365.3 861.0l3.9 3.9l-3.9 3.9l-3.9 -3.9zM383.5 866.7l3.9 3.9l-3.9 3.9l-3.9 -3.9zM287.8 1000.4l3.9 3.9l-3.9 3.9l-3.9 -3.9zM264.9 973.9l3.9 3.9l-3.9 3.9l-3.9 -3.9zM340.2 872.4l3.9 3.9l-3.9 3.9l-3.9 -3.9zM297.0 972.4l3.9 3.9l-3.9 3.9l-3.9 -3.9zM377.7 885.5l3.9 3.9l-3.9 3.9l-3.9 -3.9zM270.8 940.0l3.9 3.9l-3.9 3.9l-3.9 -3.9zM287.1 988.7l3.9 3.9l-3.9 3.9l-3.9 -3.9zM373.4 882.8l3.9 3.9l-3.9 3.9l-3.9 -3.9zM253.9 1016.9l3.9 3.9l-3.9 3.9l-3.9 -3.9zM368.1 849.0l3.9 3.9l-3.9 3.9l-3.9 -3.9zM273.6 956.1l3.9 3.9l-3.9 3.9l-3.9 -3.9zM277.5 1011.9l3.9 3.9l-3.9 3.9l-3.9 -3.9zM302.3 965.5l3.9 3.9l-3.9 3.9l-3.9 -3.9zM280.8 1011.0l3.9 3.9l-3.9 3.9l-3.9 -3.9zM322.9 943.2l3.9 3.9l-3.9 3.9l-3.9 -3.9zM338.1 886.3l3.9 3.9l-3.9 3.9l-3.9 -3.9zM280.7 929.0l3.9 3.9l-3.9 3.9l-3.9 -3.9zM294.9 920.0l3.9 3.9l-3.9 3.9l-3.9 -3.9zM367.2 900.3l3.9 3.9l-3.9 3.9l-3.9 -3.9zM289.9 909.4l3.9 3.9l-3.9 3.9l-3.9 -3.9zM348.9 913.4l3.9 3.9l-3.9 3.9l-3.9 -3.9zM297.7 975.8l3.9 3.9l-3.9 3.9l-3.9 -3.9zM301.3 964.6l3.9 3.9l-3.9 3.9l-3.9 -3.9zM248.1 1003.8l3.9 3.9l-3.9 3.9l-3.9 -3.9zM286.8 924.7l3.9 3.9l-3.9 3.9l-3.9 -3.9zM351.5 908.7l3.9 3.9l-3.9 3.9l-3.9 -3.9zM321.1 951.1l3.9 3.9l-3.9 3.9l-3.9 -3.9zM259.5 1009.4l3.9 3.9l-3.9 3.9l-3.9 -3.9zM349.4 935.2l3.9 3.9l-3.9 3.9l-3.9 -3.9zM267.1 966.6l3.9 3.9l-3.9 3.9l-3.9 -3.9zM333.1 931.7l3.9 3.9l-3.9 3.9l-3.9 -3.9zM275.7 931.0l3.9 3.9l-3.9 3.9l-3.9 -3.9zM336.5 933.7l3.9 3.9l-3.9 3.9l-3.9 -3.9zM255.1 1016.7l3.9 3.9l-3.9 3.9l-3.9 -3.9zM255.8 1002.8l3.9 3.9l-3.9 3.9l-3.9 -3.9zM294.7 914.7l3.9 3.9l-3.9 3.9l-3.9 -3.9zM371.3 872.8l3.9 3.9l-3.9 3.9l-3.9 -3.9zM369.3 871.7l3.9 3.9l-3.9 3.9l-3.9 -3.9zM326.3 897.1l3.9 3.9l-3.9 3.9l-3.9 -3.9zM255.6 987.3l3.9 3.9l-3.9 3.9l-3.9 -3.9zM339.0 931.8l3.9 3.9l-3.9 3.9l-3.9 -3.9zM258.4 974.3l3.9 3.9l-3.9 3.9l-3.9 -3.9zM322.7 943.1l3.9 3.9l-3.9 3.9l-3.9 -3.9zM283.5 935.2l3.9 3.9l-3.9 3.9l-3.9 -3.9zM297.1 903.8l3.9 3.9l-3.9 3.9l-3.9 -3.9zM370.9 897.6l3.9 3.9l-3.9 3.9l-3.9 -3.9zM262.1 954.7l3.9 3.9l-3.9 3.9l-3.9 -3.9zM358.5 902.4l3.9 3.9l-3.9 3.9l-3.9 -3.9zM374.7 868.5l3.9 3.9l-3.9 3.9l-3.9 -3.9zM372.7 865.0l3.9 3.9l-3.9 3.9l-3.9 -3.9zM372.9 888.0l3.9 3.9l-3.9 3.9l-3.9 -3.9zM251.3 974.2l3.9 3.9l-3.9 3.9l-3.9 -3.9zM335.3 877.7l3.9 3.9l-3.9 3.9l-3.9 -3.9zM244.9 998.9l3.9 3.9l-3.9 3.9l-3.9 -3.9zM244.3 966.0l3.9 3.9l-3.9 3.9l-3.9 -3.9zM253.7 1015.2l3.9 3.9l-3.9 3.9l-3.9 -3.9zM276.4 1006.2l3.9 3.9l-3.9 3.9l-3.9 -3.9zM265.3 1012.9l3.9 3.9l-3.9 3.9l-3.9 -3.9zM371.4 877.2l3.9 3.9l-3.9 3.9l-3.9 -3.9zM328.3 953.2l3.9 3.9l-3.9 3.9l-3.9 -3.9zM291.5 980.9l3.9 3.9l-3.9 3.9l-3.9 -3.9zM266.3 1020.8l3.9 3.9l-3.9 3.9l-3.9 -3.9zM272.2 938.9l3.9 3.9l-3.9 3.9l-3.9 -3.9zM278.4 925.6l3.9 3.9l-3.9 3.9l-3.9 -3.9zM303.5 972.4l3.9 3.9l-3.9 3.9l-3.9 -3.9zM326.5 938.5l3.9 3.9l-3.9 3.9l-3.9 -3.9zM290.2 989.0l3.9 3.9l-3.9 3.9l-3.9 -3.9zM380.2 865.0l3.9 3.9l-3.9 3.9l-3.9 -3.9zM315.0 965.4l3.9 3.9l-3.9 3.9l-3.9 -3.9zM330.0 883.0l3.9 3.9l-3.9 3.9l-3.9 -3.9zM322.0 891.7l3.9 3.9l-3.9 3.9l-3.9 -3.9zM264.7 1011.0l3.9 3.9l-3.9 3.9l-3.9 -3.9zM285.8 907.6l3.9 3.9l-3.9 3.9l-3.9 -3.9zM253.4 999.3l3.9 3.9l-3.9 3.9l-3.9 -3.9zM369.9 867.4l3.9 3.9l-3.9 3.9l-3.9 -3.9zM295.5 911.8l3.9 3.9l-3.9 3.9l-3.9 -3.9zM292.7 918.3l3.9 3.9l-3.9 3.9l-3.9 -3.9zM355.0 861.3l3.9 3.9l-3.9 3.9l-3.9 -3.9zM248.9 1024.2l3.9 3.9l-3.9 3.9l-3.9 -3.9zM275.2 952.2l3.9 3.9l-3.9 3.9l-3.9 -3.9zM376.3 890.5l3.9 3.9l-3.9 3.9l-3.9 -3.9zM383.7 850.4l3.9 3.9l-3.9 3.9l-3.9 -3.9zM282.3 930.0l3.9 3.9l-3.9 3.9l-3.9 -3.9zM290.1 913.3l3.9 3.9l-3.9 3.9l-3.9 -3.9zM282.6 999.6l3.9 3.9l-3.9 3.9l-3.9 -3.9zM297.1 916.8l3.9 3.9l-3.9 3.9l-3.9 -3.9zM324.6 941.1l3.9 3.9l-3.9 3.9l-3.9 -3.9zM304.5 968.1l3.9 3.9l-3.9 3.9l-3.9 -3.9zM281.8 939.4l3.9 3.9l-3.9 3.9l-3.9 -3.9zM295.7 915.5l3.9 3.9l-3.9 3.9l-3.9 -3.9zM305.8 979.5l3.9 3.9l-3.9 3.9l-3.9 -3.9zM329.6 887.5l3.9 3.9l-3.9 3.9l-3.9 -3.9zM283.2 997.4l3.9 3.9l-3.9 3.9l-3.9 -3.9zM262.9 948.0l3.9 3.9l-3.9 3.9l-3.9 -3.9zM374.9 867.9l3.9 3.9l-3.9 3.9l-3.9 -3.9zM286.3 990.9l3.9 3.9l-3.9 3.9l-3.9 -3.9zM321.1 941.6l3.9 3.9l-3.9 3.9l-3.9 -3.9zM251.9 1012.4l3.9 3.9l-3.9 3.9l-3.9 -3.9zM263.9 1015.6l3.9 3.9l-3.9 3.9l-3.9 -3.9zM345.0 918.4l3.9 3.9l-3.9 3.9l-3.9 -3.9zM335.8 942.3l3.9 3.9l-3.9 3.9l-3.9 -3.9zM307.4 968.3l3.9 3.9l-3.9 3.9l-3.9 -3.9zM330.2 895.3l3.9 3.9l-3.9 3.9l-3.9 -3.9zM375.1 872.9l3.9 3.9l-3.9 3.9l-3.9 -3.9zM278.3 921.7l3.9 3.9l-3.9 3.9l-3.9 -3.9zM340.4 937.4l3.9 3.9l-3.9 3.9l-3.9 -3.9zM379.5 899.6l3.9 3.9l-3.9 3.9l-3.9 -3.9zM246.3 1015.1l3.9 3.9l-3.9 3.9l-3.9 -3.9zM351.5 918.1l3.9 3.9l-3.9 3.9l-3.9 -3.9zM300.3 967.6l3.9 3.9l-3.9 3.9l-3.9 -3.9zM338.2 886.0l3.9 3.9l-3.9 3.9l-3.9 -3.9zM372.6 875.9l3.9 3.9l-3.9 3.9l-3.9 -3.9zM322.6 885.3l3.9 3.9l-3.9 3.9l-3.9 -3.9zM320.6 946.8l3.9 3.9l-3.9 3.9l-3.9 -3.9zM346.8 860.5l3.9 3.9l-3.9 3.9l-3.9 -3.9zM326.3 877.5l3.9 3.9l-3.9 3.9l-3.9 -3.9zM274.2 1020.9l3.9 3.9l-3.9 3.9l-3.9 -3.9zM334.8 880.8l3.9 3.9l-3.9 3.9l-3.9 -3.9zM379.7 889.4l3.9 3.9l-3.9 3.9l-3.9 -3.9zM379.3 848.4l3.9 3.9l-3.9 3.9l-3.9 -3.9zM393.3 850.5l3.9 3.9l-3.9 3.9l-3.9 -3.9zM246.5 988.5l3.9 3.9l-3.9 3.9l-3.9 -3.9zM368.5 908.4l3.9 3.9l-3.9 3.9l-3.9 -3.9zM377.7 856.9l3.9 3.9l-3.9 3.9l-3.9 -3.9zM271.6 949.9l3.9 3.9l-3.9 3.9l-3.9 -3.9zM283.2 1015.6l3.9 3.9l-3.9 3.9l-3.9 -3.9zM339.4 930.2l3.9 3.9l-3.9 3.9l-3.9 -3.9zM366.9 916.0l3.9 3.9l-3.9 3.9l-3.9 -3.9zM380.1 861.6l3.9 3.9l-3.9 3.9l-3.9 -3.9zM251.8 1016.7l3.9 3.9l-3.9 3.9l-3.9 -3.9zM311.7 904.9l3.9 3.9l-3.9 3.9l-3.9 -3.9zM385.7 864.9l3.9 3.9l-3.9 3.9l-3.9 -3.9zM375.6 848.0l3.9 3.9l-3.9 3.9l-3.9 -3.9zM357.4 856.8l3.9 3.9l-3.9 3.9l-3.9 -3.9zM326.3 941.1l3.9 3.9l-3.9 3.9l-3.9 -3.9zM282.3 935.8l3.9 3.9l-3.9 3.9l-3.9 -3.9zM322.1 953.5l3.9 3.9l-3.9 3.9l-3.9 -3.9zM374.5 867.9l3.9 3.9l-3.9 3.9l-3.9 -3.9zM353.0 908.4l3.9 3.9l-3.9 3.9l-3.9 -3.9zM351.1 868.6l3.9 3.9l-3.9 3.9l-3.9 -3.9zM273.9 1008.7l3.9 3.9l-3.9 3.9l-3.9 -3.9zM371.5 843.9l3.9 3.9l-3.9 3.9l-3.9 -3.9zM355.3 913.9l3.9 3.9l-3.9 3.9l-3.9 -3.9zM375.1 844.7l3.9 3.9l-3.9 3.9l-3.9 -3.9zM313.5 971.6l3.9 3.9l-3.9 3.9l-3.9 -3.9zM255.1 1015.8l3.9 3.9l-3.9 3.9l-3.9 -3.9zM339.4 882.6l3.9 3.9l-3.9 3.9l-3.9 -3.9zM288.8 907.1l3.9 3.9l-3.9 3.9l-3.9 -3.9zM318.2 951.9l3.9 3.9l-3.9 3.9l-3.9 -3.9zM372.1 855.9l3.9 3.9l-3.9 3.9l-3.9 -3.9zM364.2 904.2l3.9 3.9l-3.9 3.9l-3.9 -3.9zM343.9 928.4l3.9 3.9l-3.9 3.9l-3.9 -3.9zM241.8 995.4l3.9 3.9l-3.9 3.9l-3.9 -3.9zM379.4 857.0l3.9 3.9l-3.9 3.9l-3.9 -3.9zM372.9 905.7l3.9 3.9l-3.9 3.9l-3.9 -3.9zM284.9 1004.3l3.9 3.9l-3.9 3.9l-3.9 -3.9zM243.1 1007.6l3.9 3.9l-3.9 3.9l-3.9 -3.9zM365.2 918.8l3.9 3.9l-3.9 3.9l-3.9 -3.9zM303.3 964.7l3.9 3.9l-3.9 3.9l-3.9 -3.9zM389.3 850.4l3.9 3.9l-3.9 3.9l-3.9 -3.9zM273.3 1015.6l3.9 3.9l-3.9 3.9l-3.9 -3.9zM292.7 995.0l3.9 3.9l-3.9 3.9l-3.9 -3.9zM257.8 982.4l3.9 3.9l-3.9 3.9l-3.9 -3.9zM271.8 959.6l3.9 3.9l-3.9 3.9l-3.9 -3.9zM367.8 892.0l3.9 3.9l-3.9 3.9l-3.9 -3.9zM283.3 932.6l3.9 3.9l-3.9 3.9l-3.9 -3.9zM281.3 909.5l3.9 3.9l-3.9 3.9l-3.9 -3.9zM303.9 973.4l3.9 3.9l-3.9 3.9l-3.9 -3.9zM367.2 907.2l3.9 3.9l-3.9 3.9l-3.9 -3.9zM340.0 934.3l3.9 3.9l-3.9 3.9l-3.9 -3.9zM371.5 873.3l3.9 3.9l-3.9 3.9l-3.9 -3.9zM303.6 904.4l3.9 3.9l-3.9 3.9l-3.9 -3.9zM348.0 867.5l3.9 3.9l-3.9 3.9l-3.9 -3.9zM288.5 928.9l3.9 3.9l-3.9 3.9l-3.9 -3.9zM376.4 857.3l3.9 3.9l-3.9 3.9l-3.9 -3.9zM263.5 967.0l3.9 3.9l-3.9 3.9l-3.9 -3.9zM325.3 944.0l3.9 3.9l-3.9 3.9l-3.9 -3.9zM292.2 915.6l3.9 3.9l-3.9 3.9l-3.9 -3.9zM309.5 900.4l3.9 3.9l-3.9 3.9l-3.9 -3.9zM264.2 951.2l3.9 3.9l-3.9 3.9l-3.9 -3.9zM263.5 970.4l3.9 3.9l-3.9 3.9l-3.9 -3.9zM375.1 858.5l3.9 3.9l-3.9 3.9l-3.9 -3.9zM269.0 1014.7l3.9 3.9l-3.9 3.9l-3.9 -3.9zM297.9 1001.1l3.9 3.9l-3.9 3.9l-3.9 -3.9zM286.0 1028.2l3.9 3.9l-3.9 3.9l-3.9 -3.9zM275.1 1010.1l3.9 3.9l-3.9 3.9l-3.9 -3.9zM315.1 903.1l3.9 3.9l-3.9 3.9l-3.9 -3.9zM254.3 988.2l3.9 3.9l-3.9 3.9l-3.9 -3.9zM243.7 1014.3l3.9 3.9l-3.9 3.9l-3.9 -3.9zM351.4 912.9l3.9 3.9l-3.9 3.9l-3.9 -3.9zM290.2 1012.2l3.9 3.9l-3.9 3.9l-3.9 -3.9zM274.3 946.9l3.9 3.9l-3.9 3.9l-3.9 -3.9zM325.6 942.7l3.9 3.9l-3.9 3.9l-3.9 -3.9zM271.2 920.9l3.9 3.9l-3.9 3.9l-3.9 -3.9zM351.5 860.9l3.9 3.9l-3.9 3.9l-3.9 -3.9zM352.9 911.3l3.9 3.9l-3.9 3.9l-3.9 -3.9zM352.8 865.4l3.9 3.9l-3.9 3.9l-3.9 -3.9zM266.6 1018.4l3.9 3.9l-3.9 3.9l-3.9 -3.9zM295.5 900.5l3.9 3.9l-3.9 3.9l-3.9 -3.9zM351.7 913.4l3.9 3.9l-3.9 3.9l-3.9 -3.9zM337.0 881.3l3.9 3.9l-3.9 3.9l-3.9 -3.9zM333.5 877.8l3.9 3.9l-3.9 3.9l-3.9 -3.9zM254.0 979.8l3.9 3.9l-3.9 3.9l-3.9 -3.9zM370.4 844.0l3.9 3.9l-3.9 3.9l-3.9 -3.9zM287.0 995.9l3.9 3.9l-3.9 3.9l-3.9 -3.9zM287.2 993.0l3.9 3.9l-3.9 3.9l-3.9 -3.9zM378.1 903.8l3.9 3.9l-3.9 3.9l-3.9 -3.9zM380.2 863.9l3.9 3.9l-3.9 3.9l-3.9 -3.9zM380.4 891.2l3.9 3.9l-3.9 3.9l-3.9 -3.9zM347.1 913.9l3.9 3.9l-3.9 3.9l-3.9 -3.9zM364.9 914.8l3.9 3.9l-3.9 3.9l-3.9 -3.9zM303.2 966.8l3.9 3.9l-3.9 3.9l-3.9 -3.9zM332.8 865.5l3.9 3.9l-3.9 3.9l-3.9 -3.9zM246.6 1021.8l3.9 3.9l-3.9 3.9l-3.9 -3.9zM252.2 998.1l3.9 3.9l-3.9 3.9l-3.9 -3.9zM353.3 925.8l3.9 3.9l-3.9 3.9l-3.9 -3.9zM303.4 978.7l3.9 3.9l-3.9 3.9l-3.9 -3.9zM285.2 999.6l3.9 3.9l-3.9 3.9l-3.9 -3.9zM332.3 885.7l3.9 3.9l-3.9 3.9l-3.9 -3.9zM246.4 994.5l3.9 3.9l-3.9 3.9l-3.9 -3.9zM308.9 961.0l3.9 3.9l-3.9 3.9l-3.9 -3.9zM302.6 1006.6l3.9 3.9l-3.9 3.9l-3.9 -3.9zM256.5 980.2l3.9 3.9l-3.9 3.9l-3.9 -3.9zM364.7 907.5l3.9 3.9l-3.9 3.9l-3.9 -3.9zM362.4 857.7l3.9 3.9l-3.9 3.9l-3.9 -3.9zM311.5 957.2l3.9 3.9l-3.9 3.9l-3.9 -3.9zM349.3 912.0l3.9 3.9l-3.9 3.9l-3.9 -3.9zM371.7 863.8l3.9 3.9l-3.9 3.9l-3.9 -3.9zM370.5 875.7l3.9 3.9l-3.9 3.9l-3.9 -3.9zM294.1 915.7l3.9 3.9l-3.9 3.9l-3.9 -3.9zM377.2 843.5l3.9 3.9l-3.9 3.9l-3.9 -3.9zM301.7 965.6l3.9 3.9l-3.9 3.9l-3.9 -3.9zM277.5 1010.2l3.9 3.9l-3.9 3.9l-3.9 -3.9zM311.7 903.2l3.9 3.9l-3.9 3.9l-3.9 -3.9zM307.4 961.9l3.9 3.9l-3.9 3.9l-3.9 -3.9zM300.6 910.6l3.9 3.9l-3.9 3.9l-3.9 -3.9zM336.1 931.2l3.9 3.9l-3.9 3.9l-3.9 -3.9zM357.5 904.7l3.9 3.9l-3.9 3.9l-3.9 -3.9zM299.0 972.1l3.9 3.9l-3.9 3.9l-3.9 -3.9zM344.2 876.8l3.9 3.9l-3.9 3.9l-3.9 -3.9zM289.3 920.3l3.9 3.9l-3.9 3.9l-3.9 -3.9zM285.8 931.9l3.9 3.9l-3.9 3.9l-3.9 -3.9zM300.9 966.5l3.9 3.9l-3.9 3.9l-3.9 -3.9zM300.1 970.8l3.9 3.9l-3.9 3.9l-3.9 -3.9zM334.2 937.2l3.9 3.9l-3.9 3.9l-3.9 -3.9zM268.7 959.1l3.9 3.9l-3.9 3.9l-3.9 -3.9zM372.0 867.1l3.9 3.9l-3.9 3.9l-3.9 -3.9zM369.0 877.9l3.9 3.9l-3.9 3.9l-3.9 -3.9zM367.1 873.1l3.9 3.9l-3.9 3.9l-3.9 -3.9zM306.9 965.1l3.9 3.9l-3.9 3.9l-3.9 -3.9zM306.1 906.0l3.9 3.9l-3.9 3.9l-3.9 -3.9zM333.9 890.6l3.9 3.9l-3.9 3.9l-3.9 -3.9zM349.2 919.3l3.9 3.9l-3.9 3.9l-3.9 -3.9zM350.0 872.5l3.9 3.9l-3.9 3.9l-3.9 -3.9zM316.2 900.7l3.9 3.9l-3.9 3.9l-3.9 -3.9zM299.2 912.3l3.9 3.9l-3.9 3.9l-3.9 -3.9zM333.4 932.9l3.9 3.9l-3.9 3.9l-3.9 -3.9zM372.6 869.8l3.9 3.9l-3.9 3.9l-3.9 -3.9zM340.3 925.1l3.9 3.9l-3.9 3.9l-3.9 -3.9zM305.7 964.6l3.9 3.9l-3.9 3.9l-3.9 -3.9zM258.0 986.9l3.9 3.9l-3.9 3.9l-3.9 -3.9zM327.9 935.7l3.9 3.9l-3.9 3.9l-3.9 -3.9zM321.1 946.9l3.9 3.9l-3.9 3.9l-3.9 -3.9zM345.9 874.7l3.9 3.9l-3.9 3.9l-3.9 -3.9zM303.9 904.9l3.9 3.9l-3.9 3.9l-3.9 -3.9zM251.1 1002.5l3.9 3.9l-3.9 3.9l-3.9 -3.9zM371.2 890.4l3.9 3.9l-3.9 3.9l-3.9 -3.9zM308.7 907.1l3.9 3.9l-3.9 3.9l-3.9 -3.9zM363.9 858.0l3.9 3.9l-3.9 3.9l-3.9 -3.9zM279.5 1009.7l3.9 3.9l-3.9 3.9l-3.9 -3.9zM310.8 902.9l3.9 3.9l-3.9 3.9l-3.9 -3.9zM327.9 941.1l3.9 3.9l-3.9 3.9l-3.9 -3.9zM256.1 997.0l3.9 3.9l-3.9 3.9l-3.9 -3.9zM318.6 903.0l3.9 3.9l-3.9 3.9l-3.9 -3.9zM301.8 975.5l3.9 3.9l-3.9 3.9l-3.9 -3.9zM319.2 943.1l3.9 3.9l-3.9 3.9l-3.9 -3.9zM255.3 1011.5l3.9 3.9l-3.9 3.9l-3.9 -3.9zM302.2 911.3l3.9 3.9l-3.9 3.9l-3.9 -3.9zM370.8 868.2l3.9 3.9l-3.9 3.9l-3.9 -3.9zM334.3 938.0l3.9 3.9l-3.9 3.9l-3.9 -3.9zM280.9 936.1l3.9 3.9l-3.9 3.9l-3.9 -3.9zM251.4 1009.7l3.9 3.9l-3.9 3.9l-3.9 -3.9zM308.6 902.7l3.9 3.9l-3.9 3.9l-3.9 -3.9zM269.3 963.1l3.9 3.9l-3.9 3.9l-3.9 -3.9zM377.1 856.5l3.9 3.9l-3.9 3.9l-3.9 -3.9zM314.3 955.1l3.9 3.9l-3.9 3.9l-3.9 -3.9zM318.1 903.3l3.9 3.9l-3.9 3.9l-3.9 -3.9zM351.3 906.7l3.9 3.9l-3.9 3.9l-3.9 -3.9zM325.1 896.6l3.9 3.9l-3.9 3.9l-3.9 -3.9zM365.1 861.5l3.9 3.9l-3.9 3.9l-3.9 -3.9zM306.3 963.6l3.9 3.9l-3.9 3.9l-3.9 -3.9zM264.3 1010.1l3.9 3.9l-3.9 3.9l-3.9 -3.9zM267.3 965.8l3.9 3.9l-3.9 3.9l-3.9 -3.9zM288.9 985.3l3.9 3.9l-3.9 3.9l-3.9 -3.9zM316.7 901.8l3.9 3.9l-3.9 3.9l-3.9 -3.9zM345.9 920.4l3.9 3.9l-3.9 3.9l-3.9 -3.9zM323.7 895.9l3.9 3.9l-3.9 3.9l-3.9 -3.9zM272.3 1008.3l3.9 3.9l-3.9 3.9l-3.9 -3.9zM263.9 971.2l3.9 3.9l-3.9 3.9l-3.9 -3.9zM266.6 1008.3l3.9 3.9l-3.9 3.9l-3.9 -3.9zM301.2 971.9l3.9 3.9l-3.9 3.9l-3.9 -3.9zM369.1 897.8l3.9 3.9l-3.9 3.9l-3.9 -3.9zM347.0 909.4l3.9 3.9l-3.9 3.9l-3.9 -3.9zM379.5 855.0l3.9 3.9l-3.9 3.9l-3.9 -3.9zM378.2 860.6l3.9 3.9l-3.9 3.9l-3.9 -3.9zM274.9 1003.9l3.9 3.9l-3.9 3.9l-3.9 -3.9zM343.6 919.3l3.9 3.9l-3.9 3.9l-3.9 -3.9zM354.2 865.9l3.9 3.9l-3.9 3.9l-3.9 -3.9zM270.6 961.1l3.9 3.9l-3.9 3.9l-3.9 -3.9zM343.8 875.7l3.9 3.9l-3.9 3.9l-3.9 -3.9zM368.5 884.0l3.9 3.9l-3.9 3.9l-3.9 -3.9zM267.2 1007.7l3.9 3.9l-3.9 3.9l-3.9 -3.9zM364.3 858.0l3.9 3.9l-3.9 3.9l-3.9 -3.9zM304.1 966.4l3.9 3.9l-3.9 3.9l-3.9 -3.9zM362.2 861.6l3.9 3.9l-3.9 3.9l-3.9 -3.9zM282.8 937.4l3.9 3.9l-3.9 3.9l-3.9 -3.9zM319.6 945.4l3.9 3.9l-3.9 3.9l-3.9 -3.9zM350.4 874.0l3.9 3.9l-3.9 3.9l-3.9 -3.9zM378.0 857.2l3.9 3.9l-3.9 3.9l-3.9 -3.9zM303.0 904.3l3.9 3.9l-3.9 3.9l-3.9 -3.9zM341.0 926.1l3.9 3.9l-3.9 3.9l-3.9 -3.9zM285.3 991.7l3.9 3.9l-3.9 3.9l-3.9 -3.9zM340.3 928.8l3.9 3.9l-3.9 3.9l-3.9 -3.9zM269.0 956.5l3.9 3.9l-3.9 3.9l-3.9 -3.9zM286.0 987.8l3.9 3.9l-3.9 3.9l-3.9 -3.9zM368.5 876.5l3.9 3.9l-3.9 3.9l-3.9 -3.9zM372.8 863.1l3.9 3.9l-3.9 3.9l-3.9 -3.9zM347.2 919.3l3.9 3.9l-3.9 3.9l-3.9 -3.9zM305.3 965.6l3.9 3.9l-3.9 3.9l-3.9 -3.9zM284.5 924.9l3.9 3.9l-3.9 3.9l-3.9 -3.9zM315.1 906.0l3.9 3.9l-3.9 3.9l-3.9 -3.9zM349.0 873.1l3.9 3.9l-3.9 3.9l-3.9 -3.9zM299.9 974.0l3.9 3.9l-3.9 3.9l-3.9 -3.9zM320.3 942.7l3.9 3.9l-3.9 3.9l-3.9 -3.9zM302.7 908.2l3.9 3.9l-3.9 3.9l-3.9 -3.9zM278.0 940.5l3.9 3.9l-3.9 3.9l-3.9 -3.9zM310.1 954.8l3.9 3.9l-3.9 3.9l-3.9 -3.9zM284.0 1001.7l3.9 3.9l-3.9 3.9l-3.9 -3.9zM279.0 946.7l3.9 3.9l-3.9 3.9l-3.9 -3.9zM339.3 930.5l3.9 3.9l-3.9 3.9l-3.9 -3.9zM258.0 992.9l3.9 3.9l-3.9 3.9l-3.9 -3.9zM298.6 974.6l3.9 3.9l-3.9 3.9l-3.9 -3.9zM377.4 859.3l3.9 3.9l-3.9 3.9l-3.9 -3.9zM282.4 1004.6l3.9 3.9l-3.9 3.9l-3.9 -3.9zM276.6 1006.7l3.9 3.9l-3.9 3.9l-3.9 -3.9zM302.1 908.9l3.9 3.9l-3.9 3.9l-3.9 -3.9zM332.8 888.6l3.9 3.9l-3.9 3.9l-3.9 -3.9zM372.8 884.6l3.9 3.9l-3.9 3.9l-3.9 -3.9zM260.4 977.5l3.9 3.9l-3.9 3.9l-3.9 -3.9zM371.9 850.4l3.9 3.9l-3.9 3.9l-3.9 -3.9zM264.1 978.4l3.9 3.9l-3.9 3.9l-3.9 -3.9zM264.6 969.9l3.9 3.9l-3.9 3.9l-3.9 -3.9zM369.9 874.5l3.9 3.9l-3.9 3.9l-3.9 -3.9zM282.6 939.3l3.9 3.9l-3.9 3.9l-3.9 -3.9zM279.7 943.8l3.9 3.9l-3.9 3.9l-3.9 -3.9zM358.3 900.4l3.9 3.9l-3.9 3.9l-3.9 -3.9zM315.5 901.2l3.9 3.9l-3.9 3.9l-3.9 -3.9zM273.6 948.9l3.9 3.9l-3.9 3.9l-3.9 -3.9zM362.0 900.3l3.9 3.9l-3.9 3.9l-3.9 -3.9zM328.4 851.3l3.9 3.9l-3.9 3.9l-3.9 -3.9zM347.4 847.7l3.9 3.9l-3.9 3.9l-3.9 -3.9zM353.7 845.6l3.9 3.9l-3.9 3.9l-3.9 -3.9zM356.8 847.7l3.9 3.9l-3.9 3.9l-3.9 -3.9zM362.1 845.6l3.9 3.9l-3.9 3.9l-3.9 -3.9zM383.2 839.3l3.9 3.9l-3.9 3.9l-3.9 -3.9zM389.5 852.9l3.9 3.9l-3.9 3.9l-3.9 -3.9zM391.6 865.6l3.9 3.9l-3.9 3.9l-3.9 -3.9zM390.5 874.0l3.9 3.9l-3.9 3.9l-3.9 -3.9zM393.7 887.7l3.9 3.9l-3.9 3.9l-3.9 -3.9zM392.6 944.5l3.9 3.9l-3.9 3.9l-3.9 -3.9zM373.7 961.4l3.9 3.9l-3.9 3.9l-3.9 -3.9zM367.4 980.9l3.9 3.9l-3.9 3.9l-3.9 -3.9zM357.5 984.5l3.9 3.9l-3.9 3.9l-3.9 -3.9zM356.2 990.8l3.9 3.9l-3.9 3.9l-3.9 -3.9zM340.6 987.7l3.9 3.9l-3.9 3.9l-3.9 -3.9zM339.0 991.9l3.9 3.9l-3.9 3.9l-3.9 -3.9zM253.0 886.2l3.9 3.9l-3.9 3.9l-3.9 -3.9zM277.9 872.3l3.9 3.9l-3.9 3.9l-3.9 -3.9zM285.3 876.5l3.9 3.9l-3.9 3.9l-3.9 -3.9zM313.7 877.8l3.9 3.9l-3.9 3.9l-3.9 -3.9zM312.6 886.2l3.9 3.9l-3.9 3.9l-3.9 -3.9zM305.3 894.0l3.9 3.9l-3.9 3.9l-3.9 -3.9zM322.1 892.5l3.9 3.9l-3.9 3.9l-3.9 -3.9zM273.7 894.6l3.9 3.9l-3.9 3.9l-3.9 -3.9zM277.9 894.6l3.9 3.9l-3.9 3.9l-3.9 -3.9zM254.3 923.5l3.9 3.9l-3.9 3.9l-3.9 -3.9zM264.2 921.4l3.9 3.9l-3.9 3.9l-3.9 -3.9zM244.6 948.7l3.9 3.9l-3.9 3.9l-3.9 -3.9zM233.7 975.1l3.9 3.9l-3.9 3.9l-3.9 -3.9zM238.9 980.9l3.9 3.9l-3.9 3.9l-3.9 -3.9zM230.5 994.4l3.9 3.9l-3.9 3.9l-3.9 -3.9zM235.8 999.3l3.9 3.9l-3.9 3.9l-3.9 -3.9zM214.7 1010.8l3.9 3.9l-3.9 3.9l-3.9 -3.9zM221.0 1009.8l3.9 3.9l-3.9 3.9l-3.9 -3.9zM214.7 1028.1l3.9 3.9l-3.9 3.9l-3.9 -3.9zM227.4 1029.8l3.9 3.9l-3.9 3.9l-3.9 -3.9zM232.6 1044.5l3.9 3.9l-3.9 3.9l-3.9 -3.9zM241.1 1046.0l3.9 3.9l-3.9 3.9l-3.9 -3.9zM286.3 1018.2l3.9 3.9l-3.9 3.9l-3.9 -3.9zM313.7 1008.7l3.9 3.9l-3.9 3.9l-3.9 -3.9zM315.4 1003.5l3.9 3.9l-3.9 3.9l-3.9 -3.9zM318.5 991.5l3.9 3.9l-3.9 3.9l-3.9 -3.9zM357.9 951.9l3.9 3.9l-3.9 3.9l-3.9 -3.9zM366.3 938.2l3.9 3.9l-3.9 3.9l-3.9 -3.9zM376.8 925.6l3.9 3.9l-3.9 3.9l-3.9 -3.9zM380.0 905.6l3.9 3.9l-3.9 3.9l-3.9 -3.9zM383.2 890.8l3.9 3.9l-3.9 3.9l-3.9 -3.9zM381.0 879.3l3.9 3.9l-3.9 3.9l-3.9 -3.9zM268.4 906.6l3.9 3.9l-3.9 3.9l-3.9 -3.9zM268.4 910.8l3.9 3.9l-3.9 3.9l-3.9 -3.9zM277.9 909.8l3.9 3.9l-3.9 3.9l-3.9 -3.9zM286.3 906.6l3.9 3.9l-3.9 3.9l-3.9 -3.9zM292.6 906.1l3.9 3.9l-3.9 3.9l-3.9 -3.9zM263.7 921.4l3.9 3.9l-3.9 3.9l-3.9 -3.9zM273.7 921.9l3.9 3.9l-3.9 3.9l-3.9 -3.9zM273.7 931.9l3.9 3.9l-3.9 3.9l-3.9 -3.9zM260.0 943.5l3.9 3.9l-3.9 3.9l-3.9 -3.9zM252.0 952.1l3.9 3.9l-3.9 3.9l-3.9 -3.9zM254.7 955.5l3.9 3.9l-3.9 3.9l-3.9 -3.9zM260.2 943.2l3.9 3.9l-3.9 3.9l-3.9 -3.9zM251.3 963.7l3.9 3.9l-3.9 3.9l-3.9 -3.9zM226.0 1011.6l3.9 3.9l-3.9 3.9l-3.9 -3.9zM268.4 1017.8l3.9 3.9l-3.9 3.9l-3.9 -3.9zM319.0 991.1l3.9 3.9l-3.9 3.9l-3.9 -3.9zM314.2 1008.9l3.9 3.9l-3.9 3.9l-3.9 -3.9zM297.1 993.8l3.9 3.9l-3.9 3.9l-3.9 -3.9z" fill="none" stroke="#000" stroke-width="1.1"/>
<path d="M870.4 766.7 L865.4 772.9 L865.2 773.2 L855.4 782.5 L841.5 798.7 L841.3 798.9 L841.1 799.1 L822.4 813.1 L822.2 813.2 L808.9 822.0 L795.6 839.9 L786.5 853.5 L777.4 871.7 L777.4 871.7 L768.1 890.2 L758.8 908.7 L749.8 926.9 L745.4 944.9 L745.3 945.0 L740.6 961.5 L740.5 961.7 L740.4 961.9 L736.9 968.5 L737.8 969.1 L743.1 967.6 L756.1 952.4 L756.3 952.3 L767.8 940.8 L779.2 927.0 L779.4 926.8 L788.2 917.9 L794.9 904.5 L795.0 904.3 L795.1 904.1 L795.2 903.9 L811.8 885.2 L811.9 885.1 L825.8 871.1 L830.6 866.4 L830.7 866.2 L830.9 866.1 L844.6 856.9 L852.8 848.8 L857.2 835.6 L857.3 835.4 L857.4 835.2 L857.5 835.0 L866.5 821.4 L870.9 808.5 L873.1 790.7 L873.1 777.5 L870.9 767.2 L870.4 766.7Z" fill="#000"/>
<path d="M783.5 922.6l3.9 3.9l-3.9 3.9l-3.9 -3.9zM862.0 824.8l3.9 3.9l-3.9 3.9l-3.9 -3.9zM739.6 909.3l3.9 3.9l-3.9 3.9l-3.9 -3.9zM756.2 946.5l3.9 3.9l-3.9 3.9l-3.9 -3.9zM849.9 846.0l3.9 3.9l-3.9 3.9l-3.9 -3.9zM806.9 885.0l3.9 3.9l-3.9 3.9l-3.9 -3.9zM826.5 807.8l3.9 3.9l-3.9 3.9l-3.9 -3.9zM746.8 887.0l3.9 3.9l-3.9 3.9l-3.9 -3.9zM855.1 782.0l3.9 3.9l-3.9 3.9l-3.9 -3.9zM804.2 825.8l3.9 3.9l-3.9 3.9l-3.9 -3.9zM751.5 908.7l3.9 3.9l-3.9 3.9l-3.9 -3.9zM845.3 856.2l3.9 3.9l-3.9 3.9l-3.9 -3.9zM874.3 790.7l3.9 3.9l-3.9 3.9l-3.9 -3.9zM745.1 928.2l3.9 3.9l-3.9 3.9l-3.9 -3.9zM746.2 987.1l3.9 3.9l-3.9 3.9l-3.9 -3.9zM781.2 854.1l3.9 3.9l-3.9 3.9l-3.9 -3.9zM781.3 848.4l3.9 3.9l-3.9 3.9l-3.9 -3.9zM868.8 811.6l3.9 3.9l-3.9 3.9l-3.9 -3.9zM793.1 900.5l3.9 3.9l-3.9 3.9l-3.9 -3.9zM889.7 817.5l3.9 3.9l-3.9 3.9l-3.9 -3.9zM776.1 941.7l3.9 3.9l-3.9 3.9l-3.9 -3.9zM763.3 895.9l3.9 3.9l-3.9 3.9l-3.9 -3.9zM752.5 951.8l3.9 3.9l-3.9 3.9l-3.9 -3.9zM779.4 934.4l3.9 3.9l-3.9 3.9l-3.9 -3.9zM734.1 956.4l3.9 3.9l-3.9 3.9l-3.9 -3.9zM859.8 766.3l3.9 3.9l-3.9 3.9l-3.9 -3.9zM799.4 895.2l3.9 3.9l-3.9 3.9l-3.9 -3.9zM822.0 873.7l3.9 3.9l-3.9 3.9l-3.9 -3.9zM766.2 942.4l3.9 3.9l-3.9 3.9l-3.9 -3.9zM734.7 908.5l3.9 3.9l-3.9 3.9l-3.9 -3.9zM797.5 808.4l3.9 3.9l-3.9 3.9l-3.9 -3.9zM787.3 841.1l3.9 3.9l-3.9 3.9l-3.9 -3.9zM848.3 851.7l3.9 3.9l-3.9 3.9l-3.9 -3.9zM771.6 873.6l3.9 3.9l-3.9 3.9l-3.9 -3.9zM774.1 856.4l3.9 3.9l-3.9 3.9l-3.9 -3.9zM819.1 813.0l3.9 3.9l-3.9 3.9l-3.9 -3.9zM871.3 810.3l3.9 3.9l-3.9 3.9l-3.9 -3.9zM886.9 771.2l3.9 3.9l-3.9 3.9l-3.9 -3.9zM783.2 856.8l3.9 3.9l-3.9 3.9l-3.9 -3.9zM769.3 873.5l3.9 3.9l-3.9 3.9l-3.9 -3.9zM860.9 827.3l3.9 3.9l-3.9 3.9l-3.9 -3.9zM788.7 940.5l3.9 3.9l-3.9 3.9l-3.9 -3.9zM761.3 903.7l3.9 3.9l-3.9 3.9l-3.9 -3.9zM796.6 829.8l3.9 3.9l-3.9 3.9l-3.9 -3.9zM831.9 882.0l3.9 3.9l-3.9 3.9l-3.9 -3.9zM814.1 881.8l3.9 3.9l-3.9 3.9l-3.9 -3.9zM841.5 796.5l3.9 3.9l-3.9 3.9l-3.9 -3.9zM855.1 842.3l3.9 3.9l-3.9 3.9l-3.9 -3.9zM777.4 942.5l3.9 3.9l-3.9 3.9l-3.9 -3.9zM741.0 951.8l3.9 3.9l-3.9 3.9l-3.9 -3.9zM832.1 883.4l3.9 3.9l-3.9 3.9l-3.9 -3.9zM849.4 854.3l3.9 3.9l-3.9 3.9l-3.9 -3.9zM753.5 955.0l3.9 3.9l-3.9 3.9l-3.9 -3.9zM862.2 766.5l3.9 3.9l-3.9 3.9l-3.9 -3.9zM747.2 917.5l3.9 3.9l-3.9 3.9l-3.9 -3.9zM881.9 786.3l3.9 3.9l-3.9 3.9l-3.9 -3.9zM860.7 771.9l3.9 3.9l-3.9 3.9l-3.9 -3.9zM873.9 772.2l3.9 3.9l-3.9 3.9l-3.9 -3.9zM744.4 877.6l3.9 3.9l-3.9 3.9l-3.9 -3.9zM800.8 809.2l3.9 3.9l-3.9 3.9l-3.9 -3.9zM775.4 955.1l3.9 3.9l-3.9 3.9l-3.9 -3.9zM765.1 881.1l3.9 3.9l-3.9 3.9l-3.9 -3.9zM870.7 819.6l3.9 3.9l-3.9 3.9l-3.9 -3.9zM765.1 844.0l3.9 3.9l-3.9 3.9l-3.9 -3.9zM789.2 913.6l3.9 3.9l-3.9 3.9l-3.9 -3.9zM870.7 781.4l3.9 3.9l-3.9 3.9l-3.9 -3.9zM763.9 883.8l3.9 3.9l-3.9 3.9l-3.9 -3.9zM866.8 768.5l3.9 3.9l-3.9 3.9l-3.9 -3.9zM847.5 875.1l3.9 3.9l-3.9 3.9l-3.9 -3.9zM740.5 969.9l3.9 3.9l-3.9 3.9l-3.9 -3.9zM799.6 905.2l3.9 3.9l-3.9 3.9l-3.9 -3.9zM833.6 792.8l3.9 3.9l-3.9 3.9l-3.9 -3.9zM798.9 817.3l3.9 3.9l-3.9 3.9l-3.9 -3.9zM852.9 776.9l3.9 3.9l-3.9 3.9l-3.9 -3.9zM722.7 911.3l3.9 3.9l-3.9 3.9l-3.9 -3.9zM798.2 901.8l3.9 3.9l-3.9 3.9l-3.9 -3.9zM876.9 775.6l3.9 3.9l-3.9 3.9l-3.9 -3.9zM750.1 958.0l3.9 3.9l-3.9 3.9l-3.9 -3.9zM836.1 870.8l3.9 3.9l-3.9 3.9l-3.9 -3.9zM732.5 900.8l3.9 3.9l-3.9 3.9l-3.9 -3.9zM823.5 781.7l3.9 3.9l-3.9 3.9l-3.9 -3.9zM769.3 871.5l3.9 3.9l-3.9 3.9l-3.9 -3.9zM757.6 945.8l3.9 3.9l-3.9 3.9l-3.9 -3.9zM840.1 854.3l3.9 3.9l-3.9 3.9l-3.9 -3.9zM895.1 798.4l3.9 3.9l-3.9 3.9l-3.9 -3.9zM822.0 878.2l3.9 3.9l-3.9 3.9l-3.9 -3.9zM785.0 918.1l3.9 3.9l-3.9 3.9l-3.9 -3.9zM744.3 980.7l3.9 3.9l-3.9 3.9l-3.9 -3.9zM772.5 931.3l3.9 3.9l-3.9 3.9l-3.9 -3.9zM874.7 791.8l3.9 3.9l-3.9 3.9l-3.9 -3.9zM741.8 964.0l3.9 3.9l-3.9 3.9l-3.9 -3.9zM823.7 868.8l3.9 3.9l-3.9 3.9l-3.9 -3.9zM760.2 901.0l3.9 3.9l-3.9 3.9l-3.9 -3.9zM769.7 885.3l3.9 3.9l-3.9 3.9l-3.9 -3.9zM861.3 775.3l3.9 3.9l-3.9 3.9l-3.9 -3.9zM849.1 788.3l3.9 3.9l-3.9 3.9l-3.9 -3.9zM753.9 950.5l3.9 3.9l-3.9 3.9l-3.9 -3.9zM845.9 852.5l3.9 3.9l-3.9 3.9l-3.9 -3.9zM734.9 971.0l3.9 3.9l-3.9 3.9l-3.9 -3.9zM788.7 837.3l3.9 3.9l-3.9 3.9l-3.9 -3.9zM747.0 917.3l3.9 3.9l-3.9 3.9l-3.9 -3.9zM753.1 913.3l3.9 3.9l-3.9 3.9l-3.9 -3.9zM785.7 917.0l3.9 3.9l-3.9 3.9l-3.9 -3.9zM775.1 858.0l3.9 3.9l-3.9 3.9l-3.9 -3.9zM855.5 762.5l3.9 3.9l-3.9 3.9l-3.9 -3.9zM766.8 894.3l3.9 3.9l-3.9 3.9l-3.9 -3.9zM738.7 965.1l3.9 3.9l-3.9 3.9l-3.9 -3.9zM883.0 786.1l3.9 3.9l-3.9 3.9l-3.9 -3.9zM777.2 932.3l3.9 3.9l-3.9 3.9l-3.9 -3.9zM788.0 837.5l3.9 3.9l-3.9 3.9l-3.9 -3.9zM832.0 870.1l3.9 3.9l-3.9 3.9l-3.9 -3.9zM865.0 770.6l3.9 3.9l-3.9 3.9l-3.9 -3.9zM748.8 967.1l3.9 3.9l-3.9 3.9l-3.9 -3.9zM850.1 771.2l3.9 3.9l-3.9 3.9l-3.9 -3.9zM780.8 863.7l3.9 3.9l-3.9 3.9l-3.9 -3.9zM826.2 865.9l3.9 3.9l-3.9 3.9l-3.9 -3.9zM764.2 941.5l3.9 3.9l-3.9 3.9l-3.9 -3.9zM813.7 879.6l3.9 3.9l-3.9 3.9l-3.9 -3.9zM814.5 806.8l3.9 3.9l-3.9 3.9l-3.9 -3.9zM812.3 885.1l3.9 3.9l-3.9 3.9l-3.9 -3.9zM842.1 854.3l3.9 3.9l-3.9 3.9l-3.9 -3.9zM835.8 795.2l3.9 3.9l-3.9 3.9l-3.9 -3.9zM852.5 783.2l3.9 3.9l-3.9 3.9l-3.9 -3.9zM848.9 785.5l3.9 3.9l-3.9 3.9l-3.9 -3.9zM833.2 862.4l3.9 3.9l-3.9 3.9l-3.9 -3.9zM791.5 844.8l3.9 3.9l-3.9 3.9l-3.9 -3.9zM744.0 935.0l3.9 3.9l-3.9 3.9l-3.9 -3.9zM794.9 838.9l3.9 3.9l-3.9 3.9l-3.9 -3.9zM774.8 875.8l3.9 3.9l-3.9 3.9l-3.9 -3.9zM847.9 784.8l3.9 3.9l-3.9 3.9l-3.9 -3.9zM801.8 812.7l3.9 3.9l-3.9 3.9l-3.9 -3.9zM742.3 955.4l3.9 3.9l-3.9 3.9l-3.9 -3.9zM873.6 787.8l3.9 3.9l-3.9 3.9l-3.9 -3.9zM833.6 875.4l3.9 3.9l-3.9 3.9l-3.9 -3.9zM799.3 919.0l3.9 3.9l-3.9 3.9l-3.9 -3.9zM786.1 921.7l3.9 3.9l-3.9 3.9l-3.9 -3.9zM760.2 895.5l3.9 3.9l-3.9 3.9l-3.9 -3.9zM742.2 942.4l3.9 3.9l-3.9 3.9l-3.9 -3.9zM746.5 943.6l3.9 3.9l-3.9 3.9l-3.9 -3.9zM717.4 954.3l3.9 3.9l-3.9 3.9l-3.9 -3.9zM782.4 951.5l3.9 3.9l-3.9 3.9l-3.9 -3.9zM766.6 935.1l3.9 3.9l-3.9 3.9l-3.9 -3.9zM857.1 778.6l3.9 3.9l-3.9 3.9l-3.9 -3.9zM876.2 771.0l3.9 3.9l-3.9 3.9l-3.9 -3.9zM881.0 816.0l3.9 3.9l-3.9 3.9l-3.9 -3.9zM872.6 794.4l3.9 3.9l-3.9 3.9l-3.9 -3.9zM802.2 889.6l3.9 3.9l-3.9 3.9l-3.9 -3.9zM759.8 963.6l3.9 3.9l-3.9 3.9l-3.9 -3.9zM742.9 972.3l3.9 3.9l-3.9 3.9l-3.9 -3.9zM873.2 787.6l3.9 3.9l-3.9 3.9l-3.9 -3.9zM768.6 940.0l3.9 3.9l-3.9 3.9l-3.9 -3.9zM873.9 778.7l3.9 3.9l-3.9 3.9l-3.9 -3.9zM723.7 952.9l3.9 3.9l-3.9 3.9l-3.9 -3.9zM882.4 797.1l3.9 3.9l-3.9 3.9l-3.9 -3.9zM845.6 862.0l3.9 3.9l-3.9 3.9l-3.9 -3.9zM731.2 953.7l3.9 3.9l-3.9 3.9l-3.9 -3.9zM820.1 876.7l3.9 3.9l-3.9 3.9l-3.9 -3.9zM755.3 874.4l3.9 3.9l-3.9 3.9l-3.9 -3.9zM771.7 933.0l3.9 3.9l-3.9 3.9l-3.9 -3.9zM806.9 822.4l3.9 3.9l-3.9 3.9l-3.9 -3.9zM872.7 761.2l3.9 3.9l-3.9 3.9l-3.9 -3.9zM789.0 840.1l3.9 3.9l-3.9 3.9l-3.9 -3.9zM806.2 909.8l3.9 3.9l-3.9 3.9l-3.9 -3.9zM776.0 855.4l3.9 3.9l-3.9 3.9l-3.9 -3.9zM877.3 778.2l3.9 3.9l-3.9 3.9l-3.9 -3.9zM880.0 782.5l3.9 3.9l-3.9 3.9l-3.9 -3.9zM826.0 873.6l3.9 3.9l-3.9 3.9l-3.9 -3.9zM763.4 896.1l3.9 3.9l-3.9 3.9l-3.9 -3.9zM815.3 813.5l3.9 3.9l-3.9 3.9l-3.9 -3.9zM878.1 763.5l3.9 3.9l-3.9 3.9l-3.9 -3.9zM839.3 862.0l3.9 3.9l-3.9 3.9l-3.9 -3.9zM776.8 849.0l3.9 3.9l-3.9 3.9l-3.9 -3.9zM894.0 809.9l3.9 3.9l-3.9 3.9l-3.9 -3.9zM761.8 872.3l3.9 3.9l-3.9 3.9l-3.9 -3.9zM781.6 922.3l3.9 3.9l-3.9 3.9l-3.9 -3.9zM723.4 958.9l3.9 3.9l-3.9 3.9l-3.9 -3.9zM864.0 856.3l3.9 3.9l-3.9 3.9l-3.9 -3.9zM812.8 896.4l3.9 3.9l-3.9 3.9l-3.9 -3.9zM780.9 860.1l3.9 3.9l-3.9 3.9l-3.9 -3.9zM769.1 856.7l3.9 3.9l-3.9 3.9l-3.9 -3.9zM763.5 945.5l3.9 3.9l-3.9 3.9l-3.9 -3.9zM876.7 785.7l3.9 3.9l-3.9 3.9l-3.9 -3.9zM845.0 869.4l3.9 3.9l-3.9 3.9l-3.9 -3.9zM800.9 829.3l3.9 3.9l-3.9 3.9l-3.9 -3.9zM756.8 978.9l3.9 3.9l-3.9 3.9l-3.9 -3.9zM737.5 928.9l3.9 3.9l-3.9 3.9l-3.9 -3.9zM805.4 899.1l3.9 3.9l-3.9 3.9l-3.9 -3.9zM750.7 899.8l3.9 3.9l-3.9 3.9l-3.9 -3.9zM772.9 871.8l3.9 3.9l-3.9 3.9l-3.9 -3.9zM780.7 851.2l3.9 3.9l-3.9 3.9l-3.9 -3.9zM755.8 949.6l3.9 3.9l-3.9 3.9l-3.9 -3.9zM856.6 850.6l3.9 3.9l-3.9 3.9l-3.9 -3.9zM789.4 801.8l3.9 3.9l-3.9 3.9l-3.9 -3.9zM821.6 811.7l3.9 3.9l-3.9 3.9l-3.9 -3.9zM835.9 799.0l3.9 3.9l-3.9 3.9l-3.9 -3.9zM760.4 854.5l3.9 3.9l-3.9 3.9l-3.9 -3.9zM870.1 795.9l3.9 3.9l-3.9 3.9l-3.9 -3.9zM791.0 919.8l3.9 3.9l-3.9 3.9l-3.9 -3.9zM778.9 869.7l3.9 3.9l-3.9 3.9l-3.9 -3.9zM762.2 946.7l3.9 3.9l-3.9 3.9l-3.9 -3.9zM867.3 848.4l3.9 3.9l-3.9 3.9l-3.9 -3.9zM801.8 890.4l3.9 3.9l-3.9 3.9l-3.9 -3.9zM747.4 965.1l3.9 3.9l-3.9 3.9l-3.9 -3.9zM781.8 855.1l3.9 3.9l-3.9 3.9l-3.9 -3.9zM818.7 812.8l3.9 3.9l-3.9 3.9l-3.9 -3.9zM843.9 878.1l3.9 3.9l-3.9 3.9l-3.9 -3.9zM728.5 919.3l3.9 3.9l-3.9 3.9l-3.9 -3.9zM832.2 874.6l3.9 3.9l-3.9 3.9l-3.9 -3.9zM854.5 844.9l3.9 3.9l-3.9 3.9l-3.9 -3.9zM866.1 837.7l3.9 3.9l-3.9 3.9l-3.9 -3.9zM717.6 947.1l3.9 3.9l-3.9 3.9l-3.9 -3.9zM795.3 918.7l3.9 3.9l-3.9 3.9l-3.9 -3.9zM850.6 778.8l3.9 3.9l-3.9 3.9l-3.9 -3.9zM761.6 870.3l3.9 3.9l-3.9 3.9l-3.9 -3.9zM804.4 897.2l3.9 3.9l-3.9 3.9l-3.9 -3.9zM800.0 897.8l3.9 3.9l-3.9 3.9l-3.9 -3.9zM730.3 954.2l3.9 3.9l-3.9 3.9l-3.9 -3.9zM793.7 914.3l3.9 3.9l-3.9 3.9l-3.9 -3.9zM865.8 815.1l3.9 3.9l-3.9 3.9l-3.9 -3.9zM707.6 974.7l3.9 3.9l-3.9 3.9l-3.9 -3.9zM754.3 970.6l3.9 3.9l-3.9 3.9l-3.9 -3.9zM866.5 826.1l3.9 3.9l-3.9 3.9l-3.9 -3.9zM778.2 924.6l3.9 3.9l-3.9 3.9l-3.9 -3.9zM788.0 916.8l3.9 3.9l-3.9 3.9l-3.9 -3.9zM824.3 802.8l3.9 3.9l-3.9 3.9l-3.9 -3.9zM802.2 829.2l3.9 3.9l-3.9 3.9l-3.9 -3.9zM849.5 787.6l3.9 3.9l-3.9 3.9l-3.9 -3.9zM791.4 837.3l3.9 3.9l-3.9 3.9l-3.9 -3.9zM773.2 856.4l3.9 3.9l-3.9 3.9l-3.9 -3.9zM871.7 837.1l3.9 3.9l-3.9 3.9l-3.9 -3.9zM763.5 952.1l3.9 3.9l-3.9 3.9l-3.9 -3.9zM808.6 918.6l3.9 3.9l-3.9 3.9l-3.9 -3.9zM728.9 972.0l3.9 3.9l-3.9 3.9l-3.9 -3.9zM752.7 975.1l3.9 3.9l-3.9 3.9l-3.9 -3.9zM742.9 920.3l3.9 3.9l-3.9 3.9l-3.9 -3.9zM846.9 866.0l3.9 3.9l-3.9 3.9l-3.9 -3.9zM722.9 960.1l3.9 3.9l-3.9 3.9l-3.9 -3.9zM767.7 975.3l3.9 3.9l-3.9 3.9l-3.9 -3.9zM795.6 896.3l3.9 3.9l-3.9 3.9l-3.9 -3.9zM784.2 819.8l3.9 3.9l-3.9 3.9l-3.9 -3.9zM789.4 837.5l3.9 3.9l-3.9 3.9l-3.9 -3.9zM730.5 943.8l3.9 3.9l-3.9 3.9l-3.9 -3.9zM836.0 801.5l3.9 3.9l-3.9 3.9l-3.9 -3.9zM798.1 814.0l3.9 3.9l-3.9 3.9l-3.9 -3.9zM872.7 796.7l3.9 3.9l-3.9 3.9l-3.9 -3.9zM857.0 842.1l3.9 3.9l-3.9 3.9l-3.9 -3.9zM766.6 858.0l3.9 3.9l-3.9 3.9l-3.9 -3.9zM828.6 895.1l3.9 3.9l-3.9 3.9l-3.9 -3.9zM739.7 955.6l3.9 3.9l-3.9 3.9l-3.9 -3.9zM851.1 784.7l3.9 3.9l-3.9 3.9l-3.9 -3.9zM745.1 967.8l3.9 3.9l-3.9 3.9l-3.9 -3.9zM774.3 937.6l3.9 3.9l-3.9 3.9l-3.9 -3.9zM793.8 794.1l3.9 3.9l-3.9 3.9l-3.9 -3.9zM826.4 868.0l3.9 3.9l-3.9 3.9l-3.9 -3.9zM761.8 880.2l3.9 3.9l-3.9 3.9l-3.9 -3.9zM799.4 827.3l3.9 3.9l-3.9 3.9l-3.9 -3.9zM847.0 859.4l3.9 3.9l-3.9 3.9l-3.9 -3.9zM814.8 810.6l3.9 3.9l-3.9 3.9l-3.9 -3.9zM847.5 786.2l3.9 3.9l-3.9 3.9l-3.9 -3.9zM752.2 888.0l3.9 3.9l-3.9 3.9l-3.9 -3.9zM823.3 875.5l3.9 3.9l-3.9 3.9l-3.9 -3.9zM855.4 764.9l3.9 3.9l-3.9 3.9l-3.9 -3.9zM779.2 868.6l3.9 3.9l-3.9 3.9l-3.9 -3.9zM851.3 782.6l3.9 3.9l-3.9 3.9l-3.9 -3.9zM824.5 809.3l3.9 3.9l-3.9 3.9l-3.9 -3.9zM888.9 767.3l3.9 3.9l-3.9 3.9l-3.9 -3.9zM804.1 935.1l3.9 3.9l-3.9 3.9l-3.9 -3.9zM850.4 785.8l3.9 3.9l-3.9 3.9l-3.9 -3.9zM734.5 936.6l3.9 3.9l-3.9 3.9l-3.9 -3.9zM851.5 785.6l3.9 3.9l-3.9 3.9l-3.9 -3.9zM752.7 905.8l3.9 3.9l-3.9 3.9l-3.9 -3.9zM838.8 885.7l3.9 3.9l-3.9 3.9l-3.9 -3.9zM752.2 957.8l3.9 3.9l-3.9 3.9l-3.9 -3.9zM733.4 965.8l3.9 3.9l-3.9 3.9l-3.9 -3.9zM739.3 943.7l3.9 3.9l-3.9 3.9l-3.9 -3.9zM823.6 804.7l3.9 3.9l-3.9 3.9l-3.9 -3.9zM875.6 821.0l3.9 3.9l-3.9 3.9l-3.9 -3.9zM732.9 973.9l3.9 3.9l-3.9 3.9l-3.9 -3.9zM744.4 943.7l3.9 3.9l-3.9 3.9l-3.9 -3.9zM746.1 907.8l3.9 3.9l-3.9 3.9l-3.9 -3.9zM780.5 932.0l3.9 3.9l-3.9 3.9l-3.9 -3.9zM770.5 882.4l3.9 3.9l-3.9 3.9l-3.9 -3.9zM880.6 784.3l3.9 3.9l-3.9 3.9l-3.9 -3.9zM729.0 931.3l3.9 3.9l-3.9 3.9l-3.9 -3.9zM792.3 913.5l3.9 3.9l-3.9 3.9l-3.9 -3.9zM763.0 957.9l3.9 3.9l-3.9 3.9l-3.9 -3.9zM736.3 974.8l3.9 3.9l-3.9 3.9l-3.9 -3.9zM867.8 822.8l3.9 3.9l-3.9 3.9l-3.9 -3.9zM724.9 906.2l3.9 3.9l-3.9 3.9l-3.9 -3.9zM783.3 851.6l3.9 3.9l-3.9 3.9l-3.9 -3.9zM889.0 778.1l3.9 3.9l-3.9 3.9l-3.9 -3.9zM876.8 830.8l3.9 3.9l-3.9 3.9l-3.9 -3.9zM767.6 892.9l3.9 3.9l-3.9 3.9l-3.9 -3.9zM833.0 799.5l3.9 3.9l-3.9 3.9l-3.9 -3.9zM854.2 865.2l3.9 3.9l-3.9 3.9l-3.9 -3.9zM732.9 957.5l3.9 3.9l-3.9 3.9l-3.9 -3.9zM749.1 877.1l3.9 3.9l-3.9 3.9l-3.9 -3.9zM740.8 936.0l3.9 3.9l-3.9 3.9l-3.9 -3.9zM876.4 799.0l3.9 3.9l-3.9 3.9l-3.9 -3.9zM814.1 796.7l3.9 3.9l-3.9 3.9l-3.9 -3.9zM772.6 868.8l3.9 3.9l-3.9 3.9l-3.9 -3.9zM838.0 798.4l3.9 3.9l-3.9 3.9l-3.9 -3.9zM832.1 786.9l3.9 3.9l-3.9 3.9l-3.9 -3.9zM758.1 910.2l3.9 3.9l-3.9 3.9l-3.9 -3.9zM841.5 788.1l3.9 3.9l-3.9 3.9l-3.9 -3.9zM746.6 968.0l3.9 3.9l-3.9 3.9l-3.9 -3.9zM855.3 852.3l3.9 3.9l-3.9 3.9l-3.9 -3.9zM869.8 820.4l3.9 3.9l-3.9 3.9l-3.9 -3.9zM741.8 890.5l3.9 3.9l-3.9 3.9l-3.9 -3.9zM745.0 915.1l3.9 3.9l-3.9 3.9l-3.9 -3.9zM821.9 811.8l3.9 3.9l-3.9 3.9l-3.9 -3.9zM885.9 811.1l3.9 3.9l-3.9 3.9l-3.9 -3.9zM887.3 801.5l3.9 3.9l-3.9 3.9l-3.9 -3.9zM871.2 787.2l3.9 3.9l-3.9 3.9l-3.9 -3.9zM779.6 956.4l3.9 3.9l-3.9 3.9l-3.9 -3.9zM718.8 939.6l3.9 3.9l-3.9 3.9l-3.9 -3.9zM827.4 865.4l3.9 3.9l-3.9 3.9l-3.9 -3.9zM753.6 916.7l3.9 3.9l-3.9 3.9l-3.9 -3.9zM767.2 944.6l3.9 3.9l-3.9 3.9l-3.9 -3.9zM754.7 898.2l3.9 3.9l-3.9 3.9l-3.9 -3.9zM757.6 948.2l3.9 3.9l-3.9 3.9l-3.9 -3.9zM790.0 925.1l3.9 3.9l-3.9 3.9l-3.9 -3.9zM797.5 835.4l3.9 3.9l-3.9 3.9l-3.9 -3.9zM855.4 839.7l3.9 3.9l-3.9 3.9l-3.9 -3.9zM796.0 812.4l3.9 3.9l-3.9 3.9l-3.9 -3.9zM783.6 923.3l3.9 3.9l-3.9 3.9l-3.9 -3.9zM758.7 864.9l3.9 3.9l-3.9 3.9l-3.9 -3.9zM783.4 823.6l3.9 3.9l-3.9 3.9l-3.9 -3.9zM803.8 909.5l3.9 3.9l-3.9 3.9l-3.9 -3.9zM787.0 844.2l3.9 3.9l-3.9 3.9l-3.9 -3.9zM729.7 972.9l3.9 3.9l-3.9 3.9l-3.9 -3.9zM881.2 781.2l3.9 3.9l-3.9 3.9l-3.9 -3.9zM820.9 804.9l3.9 3.9l-3.9 3.9l-3.9 -3.9zM769.0 888.9l3.9 3.9l-3.9 3.9l-3.9 -3.9zM760.2 959.8l3.9 3.9l-3.9 3.9l-3.9 -3.9zM848.2 852.8l3.9 3.9l-3.9 3.9l-3.9 -3.9zM811.6 924.4l3.9 3.9l-3.9 3.9l-3.9 -3.9zM825.5 873.6l3.9 3.9l-3.9 3.9l-3.9 -3.9zM797.1 909.8l3.9 3.9l-3.9 3.9l-3.9 -3.9zM781.0 933.9l3.9 3.9l-3.9 3.9l-3.9 -3.9zM882.5 837.5l3.9 3.9l-3.9 3.9l-3.9 -3.9zM848.5 861.6l3.9 3.9l-3.9 3.9l-3.9 -3.9zM767.2 956.6l3.9 3.9l-3.9 3.9l-3.9 -3.9zM769.3 932.2l3.9 3.9l-3.9 3.9l-3.9 -3.9zM818.0 874.3l3.9 3.9l-3.9 3.9l-3.9 -3.9zM782.0 839.6l3.9 3.9l-3.9 3.9l-3.9 -3.9zM875.2 774.0l3.9 3.9l-3.9 3.9l-3.9 -3.9zM767.8 966.1l3.9 3.9l-3.9 3.9l-3.9 -3.9zM800.8 828.5l3.9 3.9l-3.9 3.9l-3.9 -3.9zM729.2 970.7l3.9 3.9l-3.9 3.9l-3.9 -3.9zM751.2 962.7l3.9 3.9l-3.9 3.9l-3.9 -3.9zM823.7 871.0l3.9 3.9l-3.9 3.9l-3.9 -3.9zM775.6 845.1l3.9 3.9l-3.9 3.9l-3.9 -3.9zM750.1 968.7l3.9 3.9l-3.9 3.9l-3.9 -3.9zM746.9 933.0l3.9 3.9l-3.9 3.9l-3.9 -3.9zM837.8 864.4l3.9 3.9l-3.9 3.9l-3.9 -3.9zM798.2 827.0l3.9 3.9l-3.9 3.9l-3.9 -3.9zM829.5 880.6l3.9 3.9l-3.9 3.9l-3.9 -3.9zM877.2 768.3l3.9 3.9l-3.9 3.9l-3.9 -3.9zM860.0 848.4l3.9 3.9l-3.9 3.9l-3.9 -3.9zM865.8 767.9l3.9 3.9l-3.9 3.9l-3.9 -3.9zM776.3 846.3l3.9 3.9l-3.9 3.9l-3.9 -3.9zM858.9 855.5l3.9 3.9l-3.9 3.9l-3.9 -3.9zM763.6 873.5l3.9 3.9l-3.9 3.9l-3.9 -3.9zM796.8 829.9l3.9 3.9l-3.9 3.9l-3.9 -3.9zM743.1 934.5l3.9 3.9l-3.9 3.9l-3.9 -3.9zM893.5 828.0l3.9 3.9l-3.9 3.9l-3.9 -3.9zM874.4 815.4l3.9 3.9l-3.9 3.9l-3.9 -3.9zM858.1 848.1l3.9 3.9l-3.9 3.9l-3.9 -3.9zM880.2 843.5l3.9 3.9l-3.9 3.9l-3.9 -3.9zM760.5 888.8l3.9 3.9l-3.9 3.9l-3.9 -3.9zM856.8 829.5l3.9 3.9l-3.9 3.9l-3.9 -3.9zM795.0 824.8l3.9 3.9l-3.9 3.9l-3.9 -3.9zM823.3 808.2l3.9 3.9l-3.9 3.9l-3.9 -3.9zM788.4 837.0l3.9 3.9l-3.9 3.9l-3.9 -3.9zM748.5 927.3l3.9 3.9l-3.9 3.9l-3.9 -3.9zM828.8 789.5l3.9 3.9l-3.9 3.9l-3.9 -3.9zM782.1 847.7l3.9 3.9l-3.9 3.9l-3.9 -3.9zM788.3 912.8l3.9 3.9l-3.9 3.9l-3.9 -3.9zM750.7 898.6l3.9 3.9l-3.9 3.9l-3.9 -3.9zM829.8 800.9l3.9 3.9l-3.9 3.9l-3.9 -3.9zM783.8 851.7l3.9 3.9l-3.9 3.9l-3.9 -3.9zM799.0 923.4l3.9 3.9l-3.9 3.9l-3.9 -3.9zM753.1 882.0l3.9 3.9l-3.9 3.9l-3.9 -3.9zM892.9 761.2l3.9 3.9l-3.9 3.9l-3.9 -3.9zM888.0 786.2l3.9 3.9l-3.9 3.9l-3.9 -3.9zM805.3 896.4l3.9 3.9l-3.9 3.9l-3.9 -3.9zM778.9 955.1l3.9 3.9l-3.9 3.9l-3.9 -3.9zM758.2 898.3l3.9 3.9l-3.9 3.9l-3.9 -3.9zM806.0 785.6l3.9 3.9l-3.9 3.9l-3.9 -3.9zM856.8 846.0l3.9 3.9l-3.9 3.9l-3.9 -3.9zM731.2 895.6l3.9 3.9l-3.9 3.9l-3.9 -3.9zM864.8 830.6l3.9 3.9l-3.9 3.9l-3.9 -3.9zM871.8 790.9l3.9 3.9l-3.9 3.9l-3.9 -3.9zM862.9 847.3l3.9 3.9l-3.9 3.9l-3.9 -3.9zM811.3 889.6l3.9 3.9l-3.9 3.9l-3.9 -3.9zM827.3 879.2l3.9 3.9l-3.9 3.9l-3.9 -3.9zM884.2 804.0l3.9 3.9l-3.9 3.9l-3.9 -3.9zM736.5 923.6l3.9 3.9l-3.9 3.9l-3.9 -3.9zM848.8 775.7l3.9 3.9l-3.9 3.9l-3.9 -3.9zM864.7 825.4l3.9 3.9l-3.9 3.9l-3.9 -3.9zM816.1 809.2l3.9 3.9l-3.9 3.9l-3.9 -3.9zM818.1 811.9l3.9 3.9l-3.9 3.9l-3.9 -3.9zM780.5 853.7l3.9 3.9l-3.9 3.9l-3.9 -3.9zM796.6 823.5l3.9 3.9l-3.9 3.9l-3.9 -3.9zM859.7 777.0l3.9 3.9l-3.9 3.9l-3.9 -3.9zM826.3 880.6l3.9 3.9l-3.9 3.9l-3.9 -3.9zM871.5 772.4l3.9 3.9l-3.9 3.9l-3.9 -3.9zM760.6 958.9l3.9 3.9l-3.9 3.9l-3.9 -3.9zM824.2 907.3l3.9 3.9l-3.9 3.9l-3.9 -3.9zM759.4 958.2l3.9 3.9l-3.9 3.9l-3.9 -3.9zM781.2 943.9l3.9 3.9l-3.9 3.9l-3.9 -3.9zM753.4 956.0l3.9 3.9l-3.9 3.9l-3.9 -3.9zM769.4 949.9l3.9 3.9l-3.9 3.9l-3.9 -3.9zM717.8 982.5l3.9 3.9l-3.9 3.9l-3.9 -3.9zM826.8 875.8l3.9 3.9l-3.9 3.9l-3.9 -3.9zM771.3 874.1l3.9 3.9l-3.9 3.9l-3.9 -3.9zM769.8 839.2l3.9 3.9l-3.9 3.9l-3.9 -3.9zM873.2 789.4l3.9 3.9l-3.9 3.9l-3.9 -3.9zM872.9 766.0l3.9 3.9l-3.9 3.9l-3.9 -3.9zM875.1 764.9l3.9 3.9l-3.9 3.9l-3.9 -3.9zM774.6 870.8l3.9 3.9l-3.9 3.9l-3.9 -3.9zM771.5 858.2l3.9 3.9l-3.9 3.9l-3.9 -3.9zM878.9 829.3l3.9 3.9l-3.9 3.9l-3.9 -3.9zM740.7 939.5l3.9 3.9l-3.9 3.9l-3.9 -3.9zM741.6 941.0l3.9 3.9l-3.9 3.9l-3.9 -3.9zM785.1 916.6l3.9 3.9l-3.9 3.9l-3.9 -3.9zM792.9 829.0l3.9 3.9l-3.9 3.9l-3.9 -3.9zM838.9 787.1l3.9 3.9l-3.9 3.9l-3.9 -3.9zM833.8 858.0l3.9 3.9l-3.9 3.9l-3.9 -3.9zM806.4 886.0l3.9 3.9l-3.9 3.9l-3.9 -3.9zM868.6 768.3l3.9 3.9l-3.9 3.9l-3.9 -3.9zM746.7 930.2l3.9 3.9l-3.9 3.9l-3.9 -3.9zM872.4 793.6l3.9 3.9l-3.9 3.9l-3.9 -3.9zM779.5 929.4l3.9 3.9l-3.9 3.9l-3.9 -3.9zM820.8 873.0l3.9 3.9l-3.9 3.9l-3.9 -3.9zM740.2 954.7l3.9 3.9l-3.9 3.9l-3.9 -3.9zM796.4 821.1l3.9 3.9l-3.9 3.9l-3.9 -3.9zM835.2 802.0l3.9 3.9l-3.9 3.9l-3.9 -3.9zM876.8 780.3l3.9 3.9l-3.9 3.9l-3.9 -3.9zM733.8 926.8l3.9 3.9l-3.9 3.9l-3.9 -3.9zM789.3 910.2l3.9 3.9l-3.9 3.9l-3.9 -3.9zM811.1 931.8l3.9 3.9l-3.9 3.9l-3.9 -3.9zM732.0 950.8l3.9 3.9l-3.9 3.9l-3.9 -3.9zM734.3 973.2l3.9 3.9l-3.9 3.9l-3.9 -3.9zM859.1 763.2l3.9 3.9l-3.9 3.9l-3.9 -3.9zM778.1 927.7l3.9 3.9l-3.9 3.9l-3.9 -3.9zM775.5 926.8l3.9 3.9l-3.9 3.9l-3.9 -3.9zM780.2 949.5l3.9 3.9l-3.9 3.9l-3.9 -3.9zM792.5 907.8l3.9 3.9l-3.9 3.9l-3.9 -3.9zM798.6 905.8l3.9 3.9l-3.9 3.9l-3.9 -3.9zM776.6 956.6l3.9 3.9l-3.9 3.9l-3.9 -3.9zM779.1 855.7l3.9 3.9l-3.9 3.9l-3.9 -3.9zM854.6 863.3l3.9 3.9l-3.9 3.9l-3.9 -3.9zM871.3 857.4l3.9 3.9l-3.9 3.9l-3.9 -3.9zM779.6 841.7l3.9 3.9l-3.9 3.9l-3.9 -3.9zM808.7 893.0l3.9 3.9l-3.9 3.9l-3.9 -3.9zM812.8 886.8l3.9 3.9l-3.9 3.9l-3.9 -3.9zM739.1 955.9l3.9 3.9l-3.9 3.9l-3.9 -3.9zM726.2 961.4l3.9 3.9l-3.9 3.9l-3.9 -3.9zM870.9 814.1l3.9 3.9l-3.9 3.9l-3.9 -3.9zM878.3 790.3l3.9 3.9l-3.9 3.9l-3.9 -3.9zM723.8 964.1l3.9 3.9l-3.9 3.9l-3.9 -3.9zM840.4 795.5l3.9 3.9l-3.9 3.9l-3.9 -3.9zM849.4 782.9l3.9 3.9l-3.9 3.9l-3.9 -3.9zM812.4 884.6l3.9 3.9l-3.9 3.9l-3.9 -3.9zM792.9 924.7l3.9 3.9l-3.9 3.9l-3.9 -3.9zM813.7 815.3l3.9 3.9l-3.9 3.9l-3.9 -3.9zM881.8 762.3l3.9 3.9l-3.9 3.9l-3.9 -3.9zM829.1 881.0l3.9 3.9l-3.9 3.9l-3.9 -3.9zM773.5 876.9l3.9 3.9l-3.9 3.9l-3.9 -3.9zM775.2 852.0l3.9 3.9l-3.9 3.9l-3.9 -3.9zM800.4 923.6l3.9 3.9l-3.9 3.9l-3.9 -3.9zM739.4 973.5l3.9 3.9l-3.9 3.9l-3.9 -3.9zM790.8 914.2l3.9 3.9l-3.9 3.9l-3.9 -3.9zM716.3 944.9l3.9 3.9l-3.9 3.9l-3.9 -3.9zM785.5 835.5l3.9 3.9l-3.9 3.9l-3.9 -3.9zM802.9 828.1l3.9 3.9l-3.9 3.9l-3.9 -3.9zM779.7 848.8l3.9 3.9l-3.9 3.9l-3.9 -3.9zM736.7 955.5l3.9 3.9l-3.9 3.9l-3.9 -3.9zM853.4 770.9l3.9 3.9l-3.9 3.9l-3.9 -3.9zM881.0 798.7l3.9 3.9l-3.9 3.9l-3.9 -3.9zM772.0 859.7l3.9 3.9l-3.9 3.9l-3.9 -3.9zM749.2 965.7l3.9 3.9l-3.9 3.9l-3.9 -3.9zM779.3 861.7l3.9 3.9l-3.9 3.9l-3.9 -3.9zM815.2 891.7l3.9 3.9l-3.9 3.9l-3.9 -3.9zM803.8 803.0l3.9 3.9l-3.9 3.9l-3.9 -3.9zM746.9 958.6l3.9 3.9l-3.9 3.9l-3.9 -3.9zM755.5 989.7l3.9 3.9l-3.9 3.9l-3.9 -3.9zM825.5 869.5l3.9 3.9l-3.9 3.9l-3.9 -3.9zM729.8 962.6l3.9 3.9l-3.9 3.9l-3.9 -3.9zM747.3 939.4l3.9 3.9l-3.9 3.9l-3.9 -3.9zM784.5 832.6l3.9 3.9l-3.9 3.9l-3.9 -3.9zM831.0 779.4l3.9 3.9l-3.9 3.9l-3.9 -3.9zM885.8 795.8l3.9 3.9l-3.9 3.9l-3.9 -3.9zM760.5 881.7l3.9 3.9l-3.9 3.9l-3.9 -3.9zM743.3 927.4l3.9 3.9l-3.9 3.9l-3.9 -3.9zM759.8 889.4l3.9 3.9l-3.9 3.9l-3.9 -3.9zM823.5 866.7l3.9 3.9l-3.9 3.9l-3.9 -3.9zM779.4 927.0l3.9 3.9l-3.9 3.9l-3.9 -3.9zM792.1 845.0l3.9 3.9l-3.9 3.9l-3.9 -3.9zM742.3 974.0l3.9 3.9l-3.9 3.9l-3.9 -3.9zM886.8 780.5l3.9 3.9l-3.9 3.9l-3.9 -3.9zM792.9 819.5l3.9 3.9l-3.9 3.9l-3.9 -3.9zM821.3 886.6l3.9 3.9l-3.9 3.9l-3.9 -3.9zM842.9 783.3l3.9 3.9l-3.9 3.9l-3.9 -3.9zM735.4 957.4l3.9 3.9l-3.9 3.9l-3.9 -3.9zM770.3 871.1l3.9 3.9l-3.9 3.9l-3.9 -3.9zM795.1 832.8l3.9 3.9l-3.9 3.9l-3.9 -3.9zM857.7 763.8l3.9 3.9l-3.9 3.9l-3.9 -3.9zM830.8 790.9l3.9 3.9l-3.9 3.9l-3.9 -3.9zM857.2 762.9l3.9 3.9l-3.9 3.9l-3.9 -3.9zM850.6 850.3l3.9 3.9l-3.9 3.9l-3.9 -3.9zM802.0 814.7l3.9 3.9l-3.9 3.9l-3.9 -3.9zM787.1 838.4l3.9 3.9l-3.9 3.9l-3.9 -3.9zM732.4 979.0l3.9 3.9l-3.9 3.9l-3.9 -3.9zM766.6 894.6l3.9 3.9l-3.9 3.9l-3.9 -3.9zM764.3 885.2l3.9 3.9l-3.9 3.9l-3.9 -3.9zM868.0 825.2l3.9 3.9l-3.9 3.9l-3.9 -3.9zM805.4 894.1l3.9 3.9l-3.9 3.9l-3.9 -3.9zM863.2 836.2l3.9 3.9l-3.9 3.9l-3.9 -3.9zM779.0 931.8l3.9 3.9l-3.9 3.9l-3.9 -3.9zM751.5 891.4l3.9 3.9l-3.9 3.9l-3.9 -3.9zM763.0 861.3l3.9 3.9l-3.9 3.9l-3.9 -3.9zM792.2 817.8l3.9 3.9l-3.9 3.9l-3.9 -3.9zM855.5 835.3l3.9 3.9l-3.9 3.9l-3.9 -3.9zM771.5 936.0l3.9 3.9l-3.9 3.9l-3.9 -3.9zM747.1 971.9l3.9 3.9l-3.9 3.9l-3.9 -3.9zM872.1 766.1l3.9 3.9l-3.9 3.9l-3.9 -3.9zM854.4 844.5l3.9 3.9l-3.9 3.9l-3.9 -3.9zM820.0 805.7l3.9 3.9l-3.9 3.9l-3.9 -3.9zM857.6 832.4l3.9 3.9l-3.9 3.9l-3.9 -3.9zM794.6 911.3l3.9 3.9l-3.9 3.9l-3.9 -3.9zM730.3 951.0l3.9 3.9l-3.9 3.9l-3.9 -3.9zM798.3 914.5l3.9 3.9l-3.9 3.9l-3.9 -3.9zM749.9 969.4l3.9 3.9l-3.9 3.9l-3.9 -3.9zM807.7 882.4l3.9 3.9l-3.9 3.9l-3.9 -3.9zM740.1 953.5l3.9 3.9l-3.9 3.9l-3.9 -3.9zM749.4 977.5l3.9 3.9l-3.9 3.9l-3.9 -3.9zM842.4 787.5l3.9 3.9l-3.9 3.9l-3.9 -3.9zM883.2 790.3l3.9 3.9l-3.9 3.9l-3.9 -3.9zM737.4 965.8l3.9 3.9l-3.9 3.9l-3.9 -3.9zM759.9 908.1l3.9 3.9l-3.9 3.9l-3.9 -3.9zM853.6 873.0l3.9 3.9l-3.9 3.9l-3.9 -3.9zM855.6 839.8l3.9 3.9l-3.9 3.9l-3.9 -3.9zM863.4 818.5l3.9 3.9l-3.9 3.9l-3.9 -3.9zM882.1 790.6l3.9 3.9l-3.9 3.9l-3.9 -3.9zM803.2 888.3l3.9 3.9l-3.9 3.9l-3.9 -3.9zM844.1 865.0l3.9 3.9l-3.9 3.9l-3.9 -3.9zM874.0 805.3l3.9 3.9l-3.9 3.9l-3.9 -3.9zM736.3 970.3l3.9 3.9l-3.9 3.9l-3.9 -3.9zM861.4 774.3l3.9 3.9l-3.9 3.9l-3.9 -3.9zM746.4 925.8l3.9 3.9l-3.9 3.9l-3.9 -3.9zM737.8 926.0l3.9 3.9l-3.9 3.9l-3.9 -3.9zM798.4 831.2l3.9 3.9l-3.9 3.9l-3.9 -3.9zM801.8 806.3l3.9 3.9l-3.9 3.9l-3.9 -3.9zM862.3 770.0l3.9 3.9l-3.9 3.9l-3.9 -3.9zM809.0 797.1l3.9 3.9l-3.9 3.9l-3.9 -3.9zM834.7 777.3l3.9 3.9l-3.9 3.9l-3.9 -3.9zM801.9 932.1l3.9 3.9l-3.9 3.9l-3.9 -3.9zM858.6 867.8l3.9 3.9l-3.9 3.9l-3.9 -3.9zM841.6 867.6l3.9 3.9l-3.9 3.9l-3.9 -3.9zM733.8 947.4l3.9 3.9l-3.9 3.9l-3.9 -3.9zM858.5 840.2l3.9 3.9l-3.9 3.9l-3.9 -3.9zM776.0 856.8l3.9 3.9l-3.9 3.9l-3.9 -3.9zM784.7 851.5l3.9 3.9l-3.9 3.9l-3.9 -3.9zM762.7 900.2l3.9 3.9l-3.9 3.9l-3.9 -3.9zM754.7 881.1l3.9 3.9l-3.9 3.9l-3.9 -3.9zM807.6 820.1l3.9 3.9l-3.9 3.9l-3.9 -3.9zM818.9 810.4l3.9 3.9l-3.9 3.9l-3.9 -3.9zM848.6 848.7l3.9 3.9l-3.9 3.9l-3.9 -3.9zM793.8 841.8l3.9 3.9l-3.9 3.9l-3.9 -3.9zM775.3 937.0l3.9 3.9l-3.9 3.9l-3.9 -3.9zM808.1 892.8l3.9 3.9l-3.9 3.9l-3.9 -3.9zM850.5 783.8l3.9 3.9l-3.9 3.9l-3.9 -3.9zM828.6 805.6l3.9 3.9l-3.9 3.9l-3.9 -3.9zM803.9 823.1l3.9 3.9l-3.9 3.9l-3.9 -3.9zM806.4 818.2l3.9 3.9l-3.9 3.9l-3.9 -3.9zM815.1 881.7l3.9 3.9l-3.9 3.9l-3.9 -3.9zM764.9 969.9l3.9 3.9l-3.9 3.9l-3.9 -3.9zM882.8 801.6l3.9 3.9l-3.9 3.9l-3.9 -3.9zM793.2 928.9l3.9 3.9l-3.9 3.9l-3.9 -3.9zM816.1 806.3l3.9 3.9l-3.9 3.9l-3.9 -3.9zM754.1 910.5l3.9 3.9l-3.9 3.9l-3.9 -3.9zM887.1 772.2l3.9 3.9l-3.9 3.9l-3.9 -3.9zM778.9 945.1l3.9 3.9l-3.9 3.9l-3.9 -3.9zM785.5 806.7l3.9 3.9l-3.9 3.9l-3.9 -3.9zM886.9 813.1l3.9 3.9l-3.9 3.9l-3.9 -3.9zM848.2 849.5l3.9 3.9l-3.9 3.9l-3.9 -3.9zM748.4 965.8l3.9 3.9l-3.9 3.9l-3.9 -3.9zM793.3 829.1l3.9 3.9l-3.9 3.9l-3.9 -3.9zM835.3 766.8l3.9 3.9l-3.9 3.9l-3.9 -3.9zM757.9 910.3l3.9 3.9l-3.9 3.9l-3.9 -3.9zM818.4 812.6l3.9 3.9l-3.9 3.9l-3.9 -3.9zM741.1 966.2l3.9 3.9l-3.9 3.9l-3.9 -3.9zM762.4 943.8l3.9 3.9l-3.9 3.9l-3.9 -3.9zM747.6 878.9l3.9 3.9l-3.9 3.9l-3.9 -3.9zM763.7 871.1l3.9 3.9l-3.9 3.9l-3.9 -3.9zM730.1 964.5l3.9 3.9l-3.9 3.9l-3.9 -3.9zM734.0 971.8l3.9 3.9l-3.9 3.9l-3.9 -3.9zM848.8 857.3l3.9 3.9l-3.9 3.9l-3.9 -3.9zM823.9 811.1l3.9 3.9l-3.9 3.9l-3.9 -3.9zM790.3 841.7l3.9 3.9l-3.9 3.9l-3.9 -3.9zM779.9 861.4l3.9 3.9l-3.9 3.9l-3.9 -3.9zM869.3 850.1l3.9 3.9l-3.9 3.9l-3.9 -3.9zM760.2 987.7l3.9 3.9l-3.9 3.9l-3.9 -3.9zM747.9 936.6l3.9 3.9l-3.9 3.9l-3.9 -3.9zM740.3 896.3l3.9 3.9l-3.9 3.9l-3.9 -3.9zM803.5 809.9l3.9 3.9l-3.9 3.9l-3.9 -3.9zM802.0 891.2l3.9 3.9l-3.9 3.9l-3.9 -3.9zM848.3 770.1l3.9 3.9l-3.9 3.9l-3.9 -3.9zM766.4 862.1l3.9 3.9l-3.9 3.9l-3.9 -3.9zM795.2 811.9l3.9 3.9l-3.9 3.9l-3.9 -3.9zM796.1 905.4l3.9 3.9l-3.9 3.9l-3.9 -3.9zM866.6 829.8l3.9 3.9l-3.9 3.9l-3.9 -3.9zM709.4 977.9l3.9 3.9l-3.9 3.9l-3.9 -3.9zM882.2 837.9l3.9 3.9l-3.9 3.9l-3.9 -3.9zM855.0 781.0l3.9 3.9l-3.9 3.9l-3.9 -3.9zM803.7 819.7l3.9 3.9l-3.9 3.9l-3.9 -3.9zM805.6 819.5l3.9 3.9l-3.9 3.9l-3.9 -3.9zM809.6 816.7l3.9 3.9l-3.9 3.9l-3.9 -3.9zM841.2 796.4l3.9 3.9l-3.9 3.9l-3.9 -3.9zM769.3 885.1l3.9 3.9l-3.9 3.9l-3.9 -3.9zM869.4 815.4l3.9 3.9l-3.9 3.9l-3.9 -3.9zM793.6 837.8l3.9 3.9l-3.9 3.9l-3.9 -3.9zM775.9 923.3l3.9 3.9l-3.9 3.9l-3.9 -3.9zM777.1 931.0l3.9 3.9l-3.9 3.9l-3.9 -3.9zM853.6 848.3l3.9 3.9l-3.9 3.9l-3.9 -3.9zM794.8 899.8l3.9 3.9l-3.9 3.9l-3.9 -3.9zM766.8 893.3l3.9 3.9l-3.9 3.9l-3.9 -3.9zM850.6 780.1l3.9 3.9l-3.9 3.9l-3.9 -3.9zM850.5 847.4l3.9 3.9l-3.9 3.9l-3.9 -3.9zM775.0 864.4l3.9 3.9l-3.9 3.9l-3.9 -3.9zM853.5 838.0l3.9 3.9l-3.9 3.9l-3.9 -3.9zM806.6 889.2l3.9 3.9l-3.9 3.9l-3.9 -3.9zM803.1 825.0l3.9 3.9l-3.9 3.9l-3.9 -3.9zM869.1 806.0l3.9 3.9l-3.9 3.9l-3.9 -3.9zM845.7 788.5l3.9 3.9l-3.9 3.9l-3.9 -3.9zM742.4 943.1l3.9 3.9l-3.9 3.9l-3.9 -3.9zM806.7 888.5l3.9 3.9l-3.9 3.9l-3.9 -3.9zM819.4 808.1l3.9 3.9l-3.9 3.9l-3.9 -3.9zM745.0 939.8l3.9 3.9l-3.9 3.9l-3.9 -3.9zM785.2 855.2l3.9 3.9l-3.9 3.9l-3.9 -3.9zM777.4 925.4l3.9 3.9l-3.9 3.9l-3.9 -3.9zM773.9 874.6l3.9 3.9l-3.9 3.9l-3.9 -3.9zM763.9 942.5l3.9 3.9l-3.9 3.9l-3.9 -3.9zM770.6 878.2l3.9 3.9l-3.9 3.9l-3.9 -3.9zM796.6 900.4l3.9 3.9l-3.9 3.9l-3.9 -3.9zM750.2 958.7l3.9 3.9l-3.9 3.9l-3.9 -3.9zM754.6 906.4l3.9 3.9l-3.9 3.9l-3.9 -3.9zM737.5 958.2l3.9 3.9l-3.9 3.9l-3.9 -3.9zM839.9 853.2l3.9 3.9l-3.9 3.9l-3.9 -3.9zM781.2 863.9l3.9 3.9l-3.9 3.9l-3.9 -3.9zM810.9 881.5l3.9 3.9l-3.9 3.9l-3.9 -3.9zM850.6 849.4l3.9 3.9l-3.9 3.9l-3.9 -3.9zM847.0 790.8l3.9 3.9l-3.9 3.9l-3.9 -3.9zM785.0 854.1l3.9 3.9l-3.9 3.9l-3.9 -3.9zM796.2 903.8l3.9 3.9l-3.9 3.9l-3.9 -3.9zM799.9 825.0l3.9 3.9l-3.9 3.9l-3.9 -3.9zM744.6 932.4l3.9 3.9l-3.9 3.9l-3.9 -3.9zM852.2 783.6l3.9 3.9l-3.9 3.9l-3.9 -3.9zM745.1 923.9l3.9 3.9l-3.9 3.9l-3.9 -3.9zM780.7 866.3l3.9 3.9l-3.9 3.9l-3.9 -3.9zM771.7 877.6l3.9 3.9l-3.9 3.9l-3.9 -3.9zM794.8 907.8l3.9 3.9l-3.9 3.9l-3.9 -3.9zM744.6 941.5l3.9 3.9l-3.9 3.9l-3.9 -3.9zM749.4 921.1l3.9 3.9l-3.9 3.9l-3.9 -3.9zM801.8 891.8l3.9 3.9l-3.9 3.9l-3.9 -3.9zM799.3 829.4l3.9 3.9l-3.9 3.9l-3.9 -3.9zM772.0 936.6l3.9 3.9l-3.9 3.9l-3.9 -3.9zM829.2 803.6l3.9 3.9l-3.9 3.9l-3.9 -3.9zM830.4 865.7l3.9 3.9l-3.9 3.9l-3.9 -3.9zM818.2 806.9l3.9 3.9l-3.9 3.9l-3.9 -3.9zM870.9 770.7l3.9 3.9l-3.9 3.9l-3.9 -3.9zM745.1 923.6l3.9 3.9l-3.9 3.9l-3.9 -3.9zM831.4 860.5l3.9 3.9l-3.9 3.9l-3.9 -3.9zM866.9 765.1l3.9 3.9l-3.9 3.9l-3.9 -3.9zM760.9 902.1l3.9 3.9l-3.9 3.9l-3.9 -3.9zM858.7 774.7l3.9 3.9l-3.9 3.9l-3.9 -3.9zM859.6 832.1l3.9 3.9l-3.9 3.9l-3.9 -3.9zM740.6 952.7l3.9 3.9l-3.9 3.9l-3.9 -3.9zM747.5 923.1l3.9 3.9l-3.9 3.9l-3.9 -3.9zM767.7 933.5l3.9 3.9l-3.9 3.9l-3.9 -3.9zM753.1 918.2l3.9 3.9l-3.9 3.9l-3.9 -3.9zM810.4 812.7l3.9 3.9l-3.9 3.9l-3.9 -3.9zM746.6 932.4l3.9 3.9l-3.9 3.9l-3.9 -3.9zM862.2 768.0l3.9 3.9l-3.9 3.9l-3.9 -3.9zM788.7 845.1l3.9 3.9l-3.9 3.9l-3.9 -3.9zM818.7 880.6l3.9 3.9l-3.9 3.9l-3.9 -3.9zM752.4 950.6l3.9 3.9l-3.9 3.9l-3.9 -3.9zM774.9 864.8l3.9 3.9l-3.9 3.9l-3.9 -3.9zM771.1 870.9l3.9 3.9l-3.9 3.9l-3.9 -3.9zM817.6 880.3l3.9 3.9l-3.9 3.9l-3.9 -3.9zM752.6 913.8l3.9 3.9l-3.9 3.9l-3.9 -3.9zM780.9 865.9l3.9 3.9l-3.9 3.9l-3.9 -3.9zM822.8 806.8l3.9 3.9l-3.9 3.9l-3.9 -3.9zM808.1 822.9l3.9 3.9l-3.9 3.9l-3.9 -3.9zM833.9 801.2l3.9 3.9l-3.9 3.9l-3.9 -3.9zM758.4 895.7l3.9 3.9l-3.9 3.9l-3.9 -3.9zM770.7 932.6l3.9 3.9l-3.9 3.9l-3.9 -3.9zM788.8 914.0l3.9 3.9l-3.9 3.9l-3.9 -3.9zM795.5 905.5l3.9 3.9l-3.9 3.9l-3.9 -3.9zM789.2 841.1l3.9 3.9l-3.9 3.9l-3.9 -3.9zM871.2 784.4l3.9 3.9l-3.9 3.9l-3.9 -3.9zM742.3 940.8l3.9 3.9l-3.9 3.9l-3.9 -3.9zM870.0 761.6l3.9 3.9l-3.9 3.9l-3.9 -3.9zM770.4 931.6l3.9 3.9l-3.9 3.9l-3.9 -3.9zM814.1 884.0l3.9 3.9l-3.9 3.9l-3.9 -3.9zM748.6 924.9l3.9 3.9l-3.9 3.9l-3.9 -3.9zM800.2 893.6l3.9 3.9l-3.9 3.9l-3.9 -3.9zM740.6 976.6l3.9 3.9l-3.9 3.9l-3.9 -3.9zM740.2 954.7l3.9 3.9l-3.9 3.9l-3.9 -3.9zM738.3 936.6l3.9 3.9l-3.9 3.9l-3.9 -3.9zM733.8 954.7l3.9 3.9l-3.9 3.9l-3.9 -3.9zM728.9 955.7l3.9 3.9l-3.9 3.9l-3.9 -3.9zM722.5 985.2l3.9 3.9l-3.9 3.9l-3.9 -3.9zM730.5 985.8l3.9 3.9l-3.9 3.9l-3.9 -3.9zM743.4 962.3l3.9 3.9l-3.9 3.9l-3.9 -3.9zM741.6 973.2l3.9 3.9l-3.9 3.9l-3.9 -3.9zM724.4 965.7l3.9 3.9l-3.9 3.9l-3.9 -3.9zM728.7 967.6l3.9 3.9l-3.9 3.9l-3.9 -3.9zM737.2 950.8l3.9 3.9l-3.9 3.9l-3.9 -3.9zM720.4 961.5l3.9 3.9l-3.9 3.9l-3.9 -3.9zM723.9 960.3l3.9 3.9l-3.9 3.9l-3.9 -3.9zM741.3 945.8l3.9 3.9l-3.9 3.9l-3.9 -3.9zM711.3 977.3l3.9 3.9l-3.9 3.9l-3.9 -3.9zM744.9 957.8l3.9 3.9l-3.9 3.9l-3.9 -3.9zM744.1 929.1l3.9 3.9l-3.9 3.9l-3.9 -3.9zM714.7 980.2l3.9 3.9l-3.9 3.9l-3.9 -3.9zM735.4 966.6l3.9 3.9l-3.9 3.9l-3.9 -3.9zM739.6 955.9l3.9 3.9l-3.9 3.9l-3.9 -3.9zM732.0 961.0l3.9 3.9l-3.9 3.9l-3.9 -3.9zM717.9 973.7l3.9 3.9l-3.9 3.9l-3.9 -3.9zM733.7 983.0l3.9 3.9l-3.9 3.9l-3.9 -3.9zM725.1 973.1l3.9 3.9l-3.9 3.9l-3.9 -3.9zM733.4 978.4l3.9 3.9l-3.9 3.9l-3.9 -3.9zM730.5 967.5l3.9 3.9l-3.9 3.9l-3.9 -3.9zM705.9 984.4l3.9 3.9l-3.9 3.9l-3.9 -3.9zM731.5 948.7l3.9 3.9l-3.9 3.9l-3.9 -3.9zM708.9 982.6l3.9 3.9l-3.9 3.9l-3.9 -3.9zM742.1 969.7l3.9 3.9l-3.9 3.9l-3.9 -3.9zM722.3 960.5l3.9 3.9l-3.9 3.9l-3.9 -3.9zM744.5 958.4l3.9 3.9l-3.9 3.9l-3.9 -3.9zM725.9 982.0l3.9 3.9l-3.9 3.9l-3.9 -3.9zM744.2 929.3l3.9 3.9l-3.9 3.9l-3.9 -3.9zM741.9 953.3l3.9 3.9l-3.9 3.9l-3.9 -3.9zM725.3 989.8l3.9 3.9l-3.9 3.9l-3.9 -3.9zM734.2 938.1l3.9 3.9l-3.9 3.9l-3.9 -3.9zM725.3 956.4l3.9 3.9l-3.9 3.9l-3.9 -3.9zM737.6 936.4l3.9 3.9l-3.9 3.9l-3.9 -3.9zM740.5 959.3l3.9 3.9l-3.9 3.9l-3.9 -3.9zM726.4 984.4l3.9 3.9l-3.9 3.9l-3.9 -3.9zM723.9 988.7l3.9 3.9l-3.9 3.9l-3.9 -3.9zM742.6 930.8l3.9 3.9l-3.9 3.9l-3.9 -3.9zM746.4 940.2l3.9 3.9l-3.9 3.9l-3.9 -3.9zM737.6 955.5l3.9 3.9l-3.9 3.9l-3.9 -3.9zM742.7 956.2l3.9 3.9l-3.9 3.9l-3.9 -3.9zM735.2 969.8l3.9 3.9l-3.9 3.9l-3.9 -3.9zM734.8 945.9l3.9 3.9l-3.9 3.9l-3.9 -3.9zM734.9 976.4l3.9 3.9l-3.9 3.9l-3.9 -3.9zM741.5 941.1l3.9 3.9l-3.9 3.9l-3.9 -3.9zM738.5 962.5l3.9 3.9l-3.9 3.9l-3.9 -3.9zM737.1 961.3l3.9 3.9l-3.9 3.9l-3.9 -3.9zM734.4 959.6l3.9 3.9l-3.9 3.9l-3.9 -3.9zM739.5 946.1l3.9 3.9l-3.9 3.9l-3.9 -3.9zM741.8 967.2l3.9 3.9l-3.9 3.9l-3.9 -3.9zM721.8 991.4l3.9 3.9l-3.9 3.9l-3.9 -3.9zM730.9 962.9l3.9 3.9l-3.9 3.9l-3.9 -3.9zM724.0 964.9l3.9 3.9l-3.9 3.9l-3.9 -3.9zM708.9 978.8l3.9 3.9l-3.9 3.9l-3.9 -3.9zM880.3 715.2l3.9 3.9l-3.9 3.9l-3.9 -3.9zM882.9 742.5l3.9 3.9l-3.9 3.9l-3.9 -3.9zM884.0 746.7l3.9 3.9l-3.9 3.9l-3.9 -3.9zM890.2 754.3l3.9 3.9l-3.9 3.9l-3.9 -3.9zM884.0 762.2l3.9 3.9l-3.9 3.9l-3.9 -3.9zM891.6 772.0l3.9 3.9l-3.9 3.9l-3.9 -3.9zM902.8 776.8l3.9 3.9l-3.9 3.9l-3.9 -3.9zM887.6 784.9l3.9 3.9l-3.9 3.9l-3.9 -3.9zM879.8 794.5l3.9 3.9l-3.9 3.9l-3.9 -3.9zM875.5 808.6l3.9 3.9l-3.9 3.9l-3.9 -3.9zM784.2 760.2l3.9 3.9l-3.9 3.9l-3.9 -3.9zM831.4 774.3l3.9 3.9l-3.9 3.9l-3.9 -3.9zM834.8 779.6l3.9 3.9l-3.9 3.9l-3.9 -3.9zM849.7 772.0l3.9 3.9l-3.9 3.9l-3.9 -3.9zM758.9 807.1l3.9 3.9l-3.9 3.9l-3.9 -3.9zM778.6 810.0l3.9 3.9l-3.9 3.9l-3.9 -3.9zM808.1 797.9l3.9 3.9l-3.9 3.9l-3.9 -3.9zM738.6 842.9l3.9 3.9l-3.9 3.9l-3.9 -3.9zM749.6 845.7l3.9 3.9l-3.9 3.9l-3.9 -3.9zM725.7 854.4l3.9 3.9l-3.9 3.9l-3.9 -3.9zM867.1 873.2l3.9 3.9l-3.9 3.9l-3.9 -3.9zM860.1 872.4l3.9 3.9l-3.9 3.9l-3.9 -3.9zM849.4 890.1l3.9 3.9l-3.9 3.9l-3.9 -3.9zM870.8 901.3l3.9 3.9l-3.9 3.9l-3.9 -3.9zM846.0 903.3l3.9 3.9l-3.9 3.9l-3.9 -3.9zM838.4 908.4l3.9 3.9l-3.9 3.9l-3.9 -3.9zM836.2 919.6l3.9 3.9l-3.9 3.9l-3.9 -3.9zM833.4 926.6l3.9 3.9l-3.9 3.9l-3.9 -3.9zM851.7 931.7l3.9 3.9l-3.9 3.9l-3.9 -3.9zM859.5 933.7l3.9 3.9l-3.9 3.9l-3.9 -3.9zM841.3 938.7l3.9 3.9l-3.9 3.9l-3.9 -3.9zM823.5 945.7l3.9 3.9l-3.9 3.9l-3.9 -3.9zM830.6 947.1l3.9 3.9l-3.9 3.9l-3.9 -3.9zM834.0 947.1l3.9 3.9l-3.9 3.9l-3.9 -3.9zM852.2 957.0l3.9 3.9l-3.9 3.9l-3.9 -3.9zM862.1 968.2l3.9 3.9l-3.9 3.9l-3.9 -3.9zM799.6 950.5l3.9 3.9l-3.9 3.9l-3.9 -3.9zM788.4 965.4l3.9 3.9l-3.9 3.9l-3.9 -3.9zM811.7 940.1l3.9 3.9l-3.9 3.9l-3.9 -3.9zM763.7 979.5l3.9 3.9l-3.9 3.9l-3.9 -3.9zM744.3 996.4l3.9 3.9l-3.9 3.9l-3.9 -3.9zM731.6 1004.8l3.9 3.9l-3.9 3.9l-3.9 -3.9zM719.0 992.7l3.9 3.9l-3.9 3.9l-3.9 -3.9zM709.1 1002.5l3.9 3.9l-3.9 3.9l-3.9 -3.9zM705.5 976.4l3.9 3.9l-3.9 3.9l-3.9 -3.9zM711.9 938.4l3.9 3.9l-3.9 3.9l-3.9 -3.9zM717.6 921.0l3.9 3.9l-3.9 3.9l-3.9 -3.9zM726.0 912.6l3.9 3.9l-3.9 3.9l-3.9 -3.9zM719.0 1019.4l3.9 3.9l-3.9 3.9l-3.9 -3.9zM706.3 1030.7l3.9 3.9l-3.9 3.9l-3.9 -3.9z" fill="none" stroke="#000" stroke-width="1.1"/>
</svg>
</body></html>
